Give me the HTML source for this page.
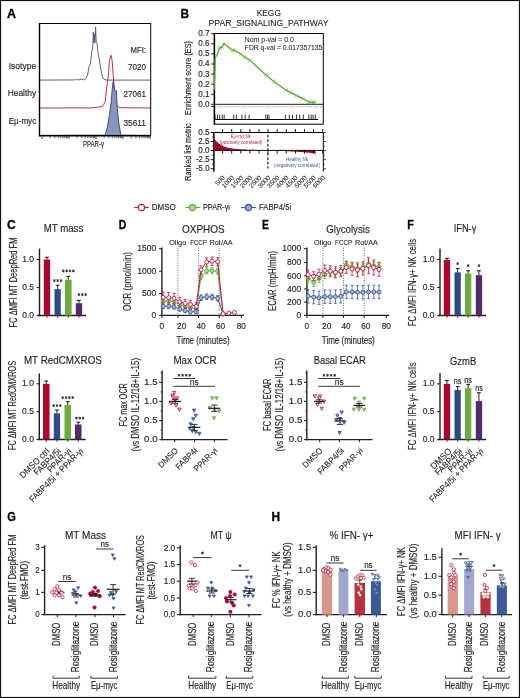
<!DOCTYPE html>
<html><head><meta charset="utf-8"><style>
html,body{margin:0;padding:0;background:#fff;width:520px;height:698px;overflow:hidden}
svg{display:block;will-change:transform}
text{font-family:"Liberation Sans", sans-serif}
</style></head><body>
<svg width="520" height="698" viewBox="0 0 520 698" font-family='"Liberation Sans", sans-serif'><rect x="0.50" y="0.50" width="519.00" height="697.00" fill="none" stroke="#111" stroke-width="1.2"/>
<text x="6.90" y="17.50" font-size="12.6" text-anchor="start" fill="#000" font-weight="bold" textLength="9.0" lengthAdjust="spacingAndGlyphs" stroke="#000" stroke-width="0.3">A</text>
<text x="180.40" y="17.50" font-size="12.6" text-anchor="start" fill="#000" font-weight="bold" textLength="8.6" lengthAdjust="spacingAndGlyphs" stroke="#000" stroke-width="0.3">B</text>
<text x="7.00" y="228.90" font-size="12.6" text-anchor="start" fill="#000" font-weight="bold" textLength="8.8" lengthAdjust="spacingAndGlyphs" stroke="#000" stroke-width="0.3">C</text>
<text x="118.80" y="228.90" font-size="12.6" text-anchor="start" fill="#000" font-weight="bold" textLength="7.6" lengthAdjust="spacingAndGlyphs" stroke="#000" stroke-width="0.3">D</text>
<text x="261.90" y="228.90" font-size="12.6" text-anchor="start" fill="#000" font-weight="bold" textLength="6.9" lengthAdjust="spacingAndGlyphs" stroke="#000" stroke-width="0.3">E</text>
<text x="407.30" y="228.90" font-size="12.6" text-anchor="start" fill="#000" font-weight="bold" textLength="6.7" lengthAdjust="spacingAndGlyphs" stroke="#000" stroke-width="0.3">F</text>
<text x="7.30" y="520.80" font-size="12.6" text-anchor="start" fill="#000" font-weight="bold" textLength="8.6" lengthAdjust="spacingAndGlyphs" stroke="#000" stroke-width="0.3">G</text>
<text x="271.40" y="520.80" font-size="12.6" text-anchor="start" fill="#000" font-weight="bold" textLength="8.6" lengthAdjust="spacingAndGlyphs" stroke="#000" stroke-width="0.3">H</text>
<polyline points="40.00,80.10 75.40,79.90 76.50,79.20 78.30,80.00 81.20,79.20 83.50,79.90 85.80,78.40 87.50,75.20 89.20,66.20 90.40,64.40 91.80,51.20 92.70,48.80 93.30,32.10 93.80,42.50 94.40,33.80 94.80,43.10 95.60,26.90 96.20,41.90 97.10,43.10 98.20,54.60 99.40,59.20 100.80,69.60 102.50,76.50 104.20,79.40 106.50,80.10 151.00,80.10" fill="none" stroke="#4a5468" stroke-width="0.9" stroke-linejoin="round"/>
<polyline points="40.00,108.00 60.00,108.00 75.00,107.80 90.00,108.00 102.20,106.70 103.50,104.80 105.20,101.50 106.10,92.50 107.40,82.20 108.70,73.20 109.30,61.60 110.40,57.70 110.90,55.20 111.60,57.10 112.20,61.60 113.20,74.50 114.50,91.20 115.80,101.50 117.10,106.10 119.60,107.70 151.00,108.00" fill="none" stroke="#c1284a" stroke-width="1.0" stroke-linejoin="round"/>
<polygon points="40.00,135.40 105.20,135.20 107.40,127.30 109.30,115.70 111.30,101.50 112.20,88.70 113.20,81.60 114.20,88.70 115.10,91.20 116.40,90.60 117.10,105.40 118.60,122.20 120.90,135.20 151.00,135.40" fill="#8a95bd" stroke="#2a3f7e" stroke-width="0.9" stroke-linejoin="round"/>
<rect x="39.50" y="23.50" width="111.20" height="112.00" fill="none" stroke="#000" stroke-width="1"/>
<line x1="39.50" y1="23.00" x2="39.50" y2="136.20" stroke="#000" stroke-width="1.4"/>
<line x1="39.00" y1="135.70" x2="151.00" y2="135.70" stroke="#000" stroke-width="1.4"/>
<line x1="42.00" y1="136.20" x2="42.00" y2="139.00" stroke="#222" stroke-width="0.8"/>
<line x1="50.13" y1="136.20" x2="50.13" y2="138.20" stroke="#222" stroke-width="0.8"/>
<line x1="54.88" y1="136.20" x2="54.88" y2="138.20" stroke="#222" stroke-width="0.8"/>
<line x1="58.26" y1="136.20" x2="58.26" y2="138.20" stroke="#222" stroke-width="0.8"/>
<line x1="60.87" y1="136.20" x2="60.87" y2="138.20" stroke="#222" stroke-width="0.8"/>
<line x1="63.01" y1="136.20" x2="63.01" y2="138.20" stroke="#222" stroke-width="0.8"/>
<line x1="64.82" y1="136.20" x2="64.82" y2="138.20" stroke="#222" stroke-width="0.8"/>
<line x1="66.38" y1="136.20" x2="66.38" y2="138.20" stroke="#222" stroke-width="0.8"/>
<line x1="67.76" y1="136.20" x2="67.76" y2="138.20" stroke="#222" stroke-width="0.8"/>
<line x1="69.00" y1="136.20" x2="69.00" y2="139.00" stroke="#222" stroke-width="0.8"/>
<line x1="77.13" y1="136.20" x2="77.13" y2="138.20" stroke="#222" stroke-width="0.8"/>
<line x1="81.88" y1="136.20" x2="81.88" y2="138.20" stroke="#222" stroke-width="0.8"/>
<line x1="85.26" y1="136.20" x2="85.26" y2="138.20" stroke="#222" stroke-width="0.8"/>
<line x1="87.87" y1="136.20" x2="87.87" y2="138.20" stroke="#222" stroke-width="0.8"/>
<line x1="90.01" y1="136.20" x2="90.01" y2="138.20" stroke="#222" stroke-width="0.8"/>
<line x1="91.82" y1="136.20" x2="91.82" y2="138.20" stroke="#222" stroke-width="0.8"/>
<line x1="93.38" y1="136.20" x2="93.38" y2="138.20" stroke="#222" stroke-width="0.8"/>
<line x1="94.76" y1="136.20" x2="94.76" y2="138.20" stroke="#222" stroke-width="0.8"/>
<line x1="96.00" y1="136.20" x2="96.00" y2="139.00" stroke="#222" stroke-width="0.8"/>
<line x1="104.13" y1="136.20" x2="104.13" y2="138.20" stroke="#222" stroke-width="0.8"/>
<line x1="108.88" y1="136.20" x2="108.88" y2="138.20" stroke="#222" stroke-width="0.8"/>
<line x1="112.26" y1="136.20" x2="112.26" y2="138.20" stroke="#222" stroke-width="0.8"/>
<line x1="114.87" y1="136.20" x2="114.87" y2="138.20" stroke="#222" stroke-width="0.8"/>
<line x1="117.01" y1="136.20" x2="117.01" y2="138.20" stroke="#222" stroke-width="0.8"/>
<line x1="118.82" y1="136.20" x2="118.82" y2="138.20" stroke="#222" stroke-width="0.8"/>
<line x1="120.38" y1="136.20" x2="120.38" y2="138.20" stroke="#222" stroke-width="0.8"/>
<line x1="121.76" y1="136.20" x2="121.76" y2="138.20" stroke="#222" stroke-width="0.8"/>
<line x1="123.00" y1="136.20" x2="123.00" y2="139.00" stroke="#222" stroke-width="0.8"/>
<line x1="131.13" y1="136.20" x2="131.13" y2="138.20" stroke="#222" stroke-width="0.8"/>
<line x1="135.88" y1="136.20" x2="135.88" y2="138.20" stroke="#222" stroke-width="0.8"/>
<line x1="139.26" y1="136.20" x2="139.26" y2="138.20" stroke="#222" stroke-width="0.8"/>
<line x1="141.87" y1="136.20" x2="141.87" y2="138.20" stroke="#222" stroke-width="0.8"/>
<line x1="144.01" y1="136.20" x2="144.01" y2="138.20" stroke="#222" stroke-width="0.8"/>
<line x1="145.82" y1="136.20" x2="145.82" y2="138.20" stroke="#222" stroke-width="0.8"/>
<line x1="147.38" y1="136.20" x2="147.38" y2="138.20" stroke="#222" stroke-width="0.8"/>
<line x1="148.76" y1="136.20" x2="148.76" y2="138.20" stroke="#222" stroke-width="0.8"/>
<line x1="150.00" y1="136.20" x2="150.00" y2="139.00" stroke="#222" stroke-width="0.8"/>
<text x="93.50" y="146.60" font-size="9.12" text-anchor="middle" fill="#231f20" font-weight="normal" textLength="21" lengthAdjust="spacingAndGlyphs" stroke="#231f20" stroke-width="0.16">PPAR-γ</text>
<text x="36.20" y="69.20" font-size="9.839999999999998" text-anchor="end" fill="#231f20" font-weight="normal" textLength="27.5" lengthAdjust="spacingAndGlyphs" stroke="#231f20" stroke-width="0.16">Isotype</text>
<text x="36.20" y="96.00" font-size="9.839999999999998" text-anchor="end" fill="#231f20" font-weight="normal" textLength="28.5" lengthAdjust="spacingAndGlyphs" stroke="#231f20" stroke-width="0.16">Healthy</text>
<text x="36.20" y="123.80" font-size="9.839999999999998" text-anchor="end" fill="#231f20" font-weight="normal" textLength="27.5" lengthAdjust="spacingAndGlyphs" stroke="#231f20" stroke-width="0.16">Eμ-myc</text>
<text x="146.00" y="52.60" font-size="9.839999999999998" text-anchor="end" fill="#231f20" font-weight="normal" textLength="15.5" lengthAdjust="spacingAndGlyphs" stroke="#231f20" stroke-width="0.16">MFI:</text>
<text x="146.00" y="69.80" font-size="9.839999999999998" text-anchor="end" fill="#231f20" font-weight="normal" textLength="18" lengthAdjust="spacingAndGlyphs" stroke="#231f20" stroke-width="0.16">7020</text>
<text x="146.00" y="96.80" font-size="9.839999999999998" text-anchor="end" fill="#231f20" font-weight="normal" textLength="22.5" lengthAdjust="spacingAndGlyphs" stroke="#231f20" stroke-width="0.16">27061</text>
<text x="146.00" y="125.60" font-size="9.839999999999998" text-anchor="end" fill="#231f20" font-weight="normal" textLength="22.5" lengthAdjust="spacingAndGlyphs" stroke="#231f20" stroke-width="0.16">35611</text>
<text x="268.80" y="15.60" font-size="9.0" text-anchor="middle" fill="#231f20" font-weight="normal" textLength="24.3" lengthAdjust="spacingAndGlyphs" stroke="#231f20" stroke-width="0.12">KEGG</text>
<text x="268.50" y="26.10" font-size="9.0" text-anchor="middle" fill="#231f20" font-weight="normal" textLength="120" lengthAdjust="spacingAndGlyphs" stroke="#231f20" stroke-width="0.12">PPAR_SIGNALING_PATHWAY</text>
<rect x="214.40" y="33.50" width="108.90" height="90.70" fill="none" stroke="#000" stroke-width="1"/>
<line x1="214.40" y1="33.00" x2="214.40" y2="124.50" stroke="#000" stroke-width="1.5"/>
<line x1="214.40" y1="104.30" x2="323.30" y2="104.30" stroke="#000" stroke-width="0.9"/>
<line x1="214.40" y1="106.80" x2="323.30" y2="106.80" stroke="#666" stroke-width="0.6" stroke-dasharray="1.4,1"/>
<line x1="214.40" y1="119.50" x2="318.00" y2="119.50" stroke="#000" stroke-width="1.0"/>
<line x1="215.00" y1="114.60" x2="215.00" y2="119.50" stroke="#000" stroke-width="0.8"/>
<line x1="217.40" y1="114.60" x2="217.40" y2="119.50" stroke="#000" stroke-width="0.8"/>
<line x1="219.70" y1="114.60" x2="219.70" y2="119.50" stroke="#000" stroke-width="0.8"/>
<line x1="222.30" y1="114.60" x2="222.30" y2="119.50" stroke="#000" stroke-width="0.8"/>
<line x1="224.20" y1="114.60" x2="224.20" y2="119.50" stroke="#000" stroke-width="0.8"/>
<line x1="233.70" y1="114.60" x2="233.70" y2="119.50" stroke="#000" stroke-width="0.8"/>
<line x1="236.30" y1="114.60" x2="236.30" y2="119.50" stroke="#000" stroke-width="0.8"/>
<line x1="241.90" y1="114.60" x2="241.90" y2="119.50" stroke="#000" stroke-width="0.8"/>
<line x1="245.20" y1="114.60" x2="245.20" y2="119.50" stroke="#000" stroke-width="0.8"/>
<line x1="249.10" y1="114.60" x2="249.10" y2="119.50" stroke="#000" stroke-width="0.8"/>
<line x1="265.80" y1="114.60" x2="265.80" y2="119.50" stroke="#000" stroke-width="0.8"/>
<line x1="267.40" y1="114.60" x2="267.40" y2="119.50" stroke="#000" stroke-width="0.8"/>
<line x1="269.00" y1="114.60" x2="269.00" y2="119.50" stroke="#000" stroke-width="0.8"/>
<line x1="285.40" y1="114.60" x2="285.40" y2="119.50" stroke="#000" stroke-width="0.8"/>
<line x1="289.30" y1="114.60" x2="289.30" y2="119.50" stroke="#000" stroke-width="0.8"/>
<line x1="292.50" y1="114.60" x2="292.50" y2="119.50" stroke="#000" stroke-width="0.8"/>
<line x1="296.50" y1="114.60" x2="296.50" y2="119.50" stroke="#000" stroke-width="0.8"/>
<line x1="299.70" y1="114.60" x2="299.70" y2="119.50" stroke="#000" stroke-width="0.8"/>
<line x1="303.30" y1="114.60" x2="303.30" y2="119.50" stroke="#000" stroke-width="0.8"/>
<line x1="308.90" y1="114.60" x2="308.90" y2="119.50" stroke="#000" stroke-width="0.8"/>
<line x1="311.20" y1="114.60" x2="311.20" y2="119.50" stroke="#000" stroke-width="0.8"/>
<line x1="313.10" y1="114.60" x2="313.10" y2="119.50" stroke="#000" stroke-width="0.8"/>
<line x1="315.40" y1="114.60" x2="315.40" y2="119.50" stroke="#000" stroke-width="0.8"/>
<line x1="211.20" y1="33.70" x2="214.40" y2="33.70" stroke="#000" stroke-width="0.9"/>
<text x="209.50" y="36.20" font-size="8.64" text-anchor="end" fill="#231f20" font-weight="normal" textLength="11.2" lengthAdjust="spacingAndGlyphs" stroke="#231f20" stroke-width="0.16">0.7</text>
<line x1="211.20" y1="43.79" x2="214.40" y2="43.79" stroke="#000" stroke-width="0.9"/>
<text x="209.50" y="46.29" font-size="8.64" text-anchor="end" fill="#231f20" font-weight="normal" textLength="11.2" lengthAdjust="spacingAndGlyphs" stroke="#231f20" stroke-width="0.16">0.6</text>
<line x1="211.20" y1="53.88" x2="214.40" y2="53.88" stroke="#000" stroke-width="0.9"/>
<text x="209.50" y="56.38" font-size="8.64" text-anchor="end" fill="#231f20" font-weight="normal" textLength="11.2" lengthAdjust="spacingAndGlyphs" stroke="#231f20" stroke-width="0.16">0.5</text>
<line x1="211.20" y1="63.97" x2="214.40" y2="63.97" stroke="#000" stroke-width="0.9"/>
<text x="209.50" y="66.47" font-size="8.64" text-anchor="end" fill="#231f20" font-weight="normal" textLength="11.2" lengthAdjust="spacingAndGlyphs" stroke="#231f20" stroke-width="0.16">0.4</text>
<line x1="211.20" y1="74.06" x2="214.40" y2="74.06" stroke="#000" stroke-width="0.9"/>
<text x="209.50" y="76.56" font-size="8.64" text-anchor="end" fill="#231f20" font-weight="normal" textLength="11.2" lengthAdjust="spacingAndGlyphs" stroke="#231f20" stroke-width="0.16">0.3</text>
<line x1="211.20" y1="84.15" x2="214.40" y2="84.15" stroke="#000" stroke-width="0.9"/>
<text x="209.50" y="86.65" font-size="8.64" text-anchor="end" fill="#231f20" font-weight="normal" textLength="11.2" lengthAdjust="spacingAndGlyphs" stroke="#231f20" stroke-width="0.16">0.2</text>
<line x1="211.20" y1="94.24" x2="214.40" y2="94.24" stroke="#000" stroke-width="0.9"/>
<text x="209.50" y="96.74" font-size="8.64" text-anchor="end" fill="#231f20" font-weight="normal" textLength="11.2" lengthAdjust="spacingAndGlyphs" stroke="#231f20" stroke-width="0.16">0.1</text>
<line x1="211.20" y1="104.33" x2="214.40" y2="104.33" stroke="#000" stroke-width="0.9"/>
<text x="209.50" y="106.83" font-size="8.64" text-anchor="end" fill="#231f20" font-weight="normal" textLength="11.2" lengthAdjust="spacingAndGlyphs" stroke="#231f20" stroke-width="0.16">0.0</text>
<line x1="211.20" y1="106.40" x2="214.40" y2="106.40" stroke="#000" stroke-width="0.9"/>
<text x="190.50" y="78.00" font-size="9.36" text-anchor="middle" fill="#231f20" font-weight="normal" textLength="74" lengthAdjust="spacingAndGlyphs" transform="rotate(-90 190.50 78.00)" stroke="#231f20" stroke-width="0.16">Enrichment score (ES)</text>
<polyline points="214.40,89.40 215.20,57.70 216.00,56.50 217.50,54.20 219.50,47.90 221.00,47.30 222.10,47.30 223.80,43.30 225.00,44.40 232.50,50.20 234.80,50.50 241.20,54.20 244.60,57.10 249.80,60.20 266.90,75.80 273.70,81.50 286.20,90.20 291.00,92.70 296.70,95.60 303.50,98.80 309.20,102.30 315.00,102.30" fill="none" stroke="#55a52e" stroke-width="1.3" stroke-linejoin="round"/>
<line x1="217.60" y1="46.00" x2="221.40" y2="49.80" stroke="#6cbb4a" stroke-width="0.8"/>
<line x1="217.60" y1="49.80" x2="221.40" y2="46.00" stroke="#6cbb4a" stroke-width="0.8"/>
<line x1="220.20" y1="45.40" x2="224.00" y2="49.20" stroke="#6cbb4a" stroke-width="0.8"/>
<line x1="220.20" y1="49.20" x2="224.00" y2="45.40" stroke="#6cbb4a" stroke-width="0.8"/>
<line x1="230.60" y1="48.30" x2="234.40" y2="52.10" stroke="#6cbb4a" stroke-width="0.8"/>
<line x1="230.60" y1="52.10" x2="234.40" y2="48.30" stroke="#6cbb4a" stroke-width="0.8"/>
<line x1="232.90" y1="48.60" x2="236.70" y2="52.40" stroke="#6cbb4a" stroke-width="0.8"/>
<line x1="232.90" y1="52.40" x2="236.70" y2="48.60" stroke="#6cbb4a" stroke-width="0.8"/>
<line x1="239.30" y1="52.30" x2="243.10" y2="56.10" stroke="#6cbb4a" stroke-width="0.8"/>
<line x1="239.30" y1="56.10" x2="243.10" y2="52.30" stroke="#6cbb4a" stroke-width="0.8"/>
<line x1="242.70" y1="55.20" x2="246.50" y2="59.00" stroke="#6cbb4a" stroke-width="0.8"/>
<line x1="242.70" y1="59.00" x2="246.50" y2="55.20" stroke="#6cbb4a" stroke-width="0.8"/>
<line x1="247.90" y1="58.30" x2="251.70" y2="62.10" stroke="#6cbb4a" stroke-width="0.8"/>
<line x1="247.90" y1="62.10" x2="251.70" y2="58.30" stroke="#6cbb4a" stroke-width="0.8"/>
<line x1="263.50" y1="72.53" x2="267.30" y2="76.33" stroke="#6cbb4a" stroke-width="0.8"/>
<line x1="263.50" y1="76.33" x2="267.30" y2="72.53" stroke="#6cbb4a" stroke-width="0.8"/>
<line x1="265.00" y1="73.90" x2="268.80" y2="77.70" stroke="#6cbb4a" stroke-width="0.8"/>
<line x1="265.00" y1="77.70" x2="268.80" y2="73.90" stroke="#6cbb4a" stroke-width="0.8"/>
<line x1="271.80" y1="79.60" x2="275.60" y2="83.40" stroke="#6cbb4a" stroke-width="0.8"/>
<line x1="271.80" y1="83.40" x2="275.60" y2="79.60" stroke="#6cbb4a" stroke-width="0.8"/>
<line x1="284.30" y1="88.30" x2="288.10" y2="92.10" stroke="#6cbb4a" stroke-width="0.8"/>
<line x1="284.30" y1="92.10" x2="288.10" y2="88.30" stroke="#6cbb4a" stroke-width="0.8"/>
<line x1="289.10" y1="90.80" x2="292.90" y2="94.60" stroke="#6cbb4a" stroke-width="0.8"/>
<line x1="289.10" y1="94.60" x2="292.90" y2="90.80" stroke="#6cbb4a" stroke-width="0.8"/>
<line x1="294.80" y1="93.70" x2="298.60" y2="97.50" stroke="#6cbb4a" stroke-width="0.8"/>
<line x1="294.80" y1="97.50" x2="298.60" y2="93.70" stroke="#6cbb4a" stroke-width="0.8"/>
<line x1="301.60" y1="96.90" x2="305.40" y2="100.70" stroke="#6cbb4a" stroke-width="0.8"/>
<line x1="301.60" y1="100.70" x2="305.40" y2="96.90" stroke="#6cbb4a" stroke-width="0.8"/>
<line x1="307.30" y1="100.40" x2="311.10" y2="104.20" stroke="#6cbb4a" stroke-width="0.8"/>
<line x1="307.30" y1="104.20" x2="311.10" y2="100.40" stroke="#6cbb4a" stroke-width="0.8"/>
<line x1="309.60" y1="100.40" x2="313.40" y2="104.20" stroke="#6cbb4a" stroke-width="0.8"/>
<line x1="309.60" y1="104.20" x2="313.40" y2="100.40" stroke="#6cbb4a" stroke-width="0.8"/>
<line x1="311.60" y1="100.40" x2="315.40" y2="104.20" stroke="#6cbb4a" stroke-width="0.8"/>
<line x1="311.60" y1="104.20" x2="315.40" y2="100.40" stroke="#6cbb4a" stroke-width="0.8"/>
<line x1="313.10" y1="100.40" x2="316.90" y2="104.20" stroke="#6cbb4a" stroke-width="0.8"/>
<line x1="313.10" y1="104.20" x2="316.90" y2="100.40" stroke="#6cbb4a" stroke-width="0.8"/>
<text x="244.80" y="41.60" font-size="7.2" text-anchor="start" fill="#231f20" font-weight="normal" textLength="49" lengthAdjust="spacingAndGlyphs" stroke="#231f20" stroke-width="0.08">Nom p-val = 0.0</text>
<text x="244.80" y="49.70" font-size="7.2" text-anchor="start" fill="#231f20" font-weight="normal" textLength="77.5" lengthAdjust="spacingAndGlyphs" stroke="#231f20" stroke-width="0.08">FDR q-val = 0.017357135</text>
<line x1="214.40" y1="132.50" x2="323.30" y2="132.50" stroke="#000" stroke-width="1"/>
<line x1="323.30" y1="132.50" x2="323.30" y2="171.50" stroke="#000" stroke-width="1"/>
<line x1="213.90" y1="132.00" x2="213.90" y2="171.80" stroke="#000" stroke-width="1.5"/>
<polygon points="214.40,150.40 214.40,139.80 215.30,140.07 216.20,141.11 217.10,142.04 218.00,142.85 218.90,143.58 219.80,144.22 220.70,144.80 221.60,145.31 222.50,145.76 223.40,146.17 224.30,146.53 225.20,146.85 226.10,147.14 227.00,147.40 227.90,147.63 228.80,147.84 229.70,148.03 230.60,148.20 231.50,148.36 232.40,148.50 233.30,148.62 234.20,148.74 235.10,148.84 236.00,148.94 236.90,149.02 237.80,149.10 238.70,149.17 239.60,149.24 240.50,149.30 241.40,149.36 242.30,149.41 243.20,149.46 244.10,149.51 245.00,149.55 245.90,149.59 246.80,149.63 247.70,149.66 248.60,149.70 249.50,149.73 250.40,149.76 251.30,149.78 252.20,149.81 253.10,149.83 254.00,149.86 254.90,149.88 255.80,149.90 256.70,149.92 257.60,149.94 258.50,149.96 259.40,149.97 260.30,149.99 261.20,150.00 262.10,150.02 263.00,150.03 263.90,150.05 264.80,150.06 265.70,150.07 266.60,150.08 267.50,150.10 268.00,150.40" fill="#a8001e" stroke="none" stroke-width="0" stroke-linejoin="round"/>
<polygon points="266.00,150.40 266.00,150.80 267.00,150.80 268.00,150.80 269.00,150.81 270.00,150.81 271.00,150.82 272.00,150.83 273.00,150.84 274.00,150.85 275.00,150.86 276.00,150.88 277.00,150.90 278.00,150.92 279.00,150.94 280.00,150.97 281.00,150.99 282.00,151.02 283.00,151.05 284.00,151.09 285.00,151.12 286.00,151.16 287.00,151.20 288.00,151.25 289.00,151.29 290.00,151.34 291.00,151.39 292.00,151.44 293.00,151.50 294.00,151.56 295.00,151.62 296.00,151.68 297.00,151.75 298.00,151.82 299.00,151.89 300.00,151.96 301.00,152.04 302.00,152.12 303.00,152.20 304.00,152.29 305.00,152.37 306.00,152.46 307.00,152.56 308.00,152.65 309.00,152.75 310.00,152.85 311.00,152.96 312.00,153.06 313.00,153.17 314.00,153.28 315.00,153.40 315.50,155.80 315.50,150.40" fill="#a8001e" stroke="none" stroke-width="0" stroke-linejoin="round"/>
<line x1="214.40" y1="150.40" x2="323.30" y2="150.40" stroke="#000" stroke-width="0.9"/>
<line x1="267.90" y1="134.80" x2="267.90" y2="168.50" stroke="#111" stroke-width="1.1" stroke-dasharray="2.6,1.9"/>
<line x1="210.60" y1="132.50" x2="213.90" y2="132.50" stroke="#000" stroke-width="0.9"/>
<text x="209.50" y="135.00" font-size="8.64" text-anchor="end" fill="#231f20" font-weight="normal" textLength="11.2" lengthAdjust="spacingAndGlyphs" stroke="#231f20" stroke-width="0.16">0.5</text>
<line x1="212.00" y1="137.00" x2="213.90" y2="137.00" stroke="#000" stroke-width="0.6"/>
<line x1="323.30" y1="132.50" x2="326.00" y2="132.50" stroke="#000" stroke-width="0.7"/>
<line x1="323.30" y1="137.00" x2="325.00" y2="137.00" stroke="#000" stroke-width="0.5"/>
<line x1="210.60" y1="141.55" x2="213.90" y2="141.55" stroke="#000" stroke-width="0.9"/>
<text x="209.50" y="144.05" font-size="8.64" text-anchor="end" fill="#231f20" font-weight="normal" textLength="11.2" lengthAdjust="spacingAndGlyphs" stroke="#231f20" stroke-width="0.16">2.5</text>
<line x1="212.00" y1="146.05" x2="213.90" y2="146.05" stroke="#000" stroke-width="0.6"/>
<line x1="323.30" y1="141.55" x2="326.00" y2="141.55" stroke="#000" stroke-width="0.7"/>
<line x1="323.30" y1="146.05" x2="325.00" y2="146.05" stroke="#000" stroke-width="0.5"/>
<line x1="210.60" y1="150.60" x2="213.90" y2="150.60" stroke="#000" stroke-width="0.9"/>
<text x="209.50" y="153.10" font-size="8.64" text-anchor="end" fill="#231f20" font-weight="normal" textLength="11.2" lengthAdjust="spacingAndGlyphs" stroke="#231f20" stroke-width="0.16">0.0</text>
<line x1="212.00" y1="155.10" x2="213.90" y2="155.10" stroke="#000" stroke-width="0.6"/>
<line x1="323.30" y1="150.60" x2="326.00" y2="150.60" stroke="#000" stroke-width="0.7"/>
<line x1="323.30" y1="155.10" x2="325.00" y2="155.10" stroke="#000" stroke-width="0.5"/>
<line x1="210.60" y1="159.65" x2="213.90" y2="159.65" stroke="#000" stroke-width="0.9"/>
<text x="209.50" y="162.15" font-size="8.64" text-anchor="end" fill="#231f20" font-weight="normal" textLength="13.5" lengthAdjust="spacingAndGlyphs" stroke="#231f20" stroke-width="0.16">-2.5</text>
<line x1="212.00" y1="164.15" x2="213.90" y2="164.15" stroke="#000" stroke-width="0.6"/>
<line x1="323.30" y1="159.65" x2="326.00" y2="159.65" stroke="#000" stroke-width="0.7"/>
<line x1="323.30" y1="164.15" x2="325.00" y2="164.15" stroke="#000" stroke-width="0.5"/>
<line x1="210.60" y1="168.70" x2="213.90" y2="168.70" stroke="#000" stroke-width="0.9"/>
<text x="209.50" y="171.20" font-size="8.64" text-anchor="end" fill="#231f20" font-weight="normal" textLength="13.5" lengthAdjust="spacingAndGlyphs" stroke="#231f20" stroke-width="0.16">-5.0</text>
<line x1="323.30" y1="168.70" x2="326.00" y2="168.70" stroke="#000" stroke-width="0.7"/>
<line x1="222.60" y1="129.00" x2="222.60" y2="132.50" stroke="#000" stroke-width="0.9"/>
<line x1="222.60" y1="150.40" x2="222.60" y2="153.60" stroke="#000" stroke-width="0.9"/>
<text x="225.40" y="178.20" font-size="6.5" text-anchor="end" fill="#231f20" font-weight="normal" transform="rotate(-45 225.40 178.20)" stroke="#231f20" stroke-width="0.08">500</text>
<line x1="231.70" y1="129.00" x2="231.70" y2="132.50" stroke="#000" stroke-width="0.9"/>
<line x1="231.70" y1="150.40" x2="231.70" y2="153.60" stroke="#000" stroke-width="0.9"/>
<text x="234.50" y="178.20" font-size="6.5" text-anchor="end" fill="#231f20" font-weight="normal" transform="rotate(-45 234.50 178.20)" stroke="#231f20" stroke-width="0.08">1000</text>
<line x1="240.80" y1="129.00" x2="240.80" y2="132.50" stroke="#000" stroke-width="0.9"/>
<line x1="240.80" y1="150.40" x2="240.80" y2="153.60" stroke="#000" stroke-width="0.9"/>
<text x="243.60" y="178.20" font-size="6.5" text-anchor="end" fill="#231f20" font-weight="normal" transform="rotate(-45 243.60 178.20)" stroke="#231f20" stroke-width="0.08">1500</text>
<line x1="249.90" y1="129.00" x2="249.90" y2="132.50" stroke="#000" stroke-width="0.9"/>
<line x1="249.90" y1="150.40" x2="249.90" y2="153.60" stroke="#000" stroke-width="0.9"/>
<text x="252.70" y="178.20" font-size="6.5" text-anchor="end" fill="#231f20" font-weight="normal" transform="rotate(-45 252.70 178.20)" stroke="#231f20" stroke-width="0.08">2000</text>
<line x1="259.00" y1="129.00" x2="259.00" y2="132.50" stroke="#000" stroke-width="0.9"/>
<line x1="259.00" y1="150.40" x2="259.00" y2="153.60" stroke="#000" stroke-width="0.9"/>
<text x="261.80" y="178.20" font-size="6.5" text-anchor="end" fill="#231f20" font-weight="normal" transform="rotate(-45 261.80 178.20)" stroke="#231f20" stroke-width="0.08">2500</text>
<line x1="268.10" y1="129.00" x2="268.10" y2="132.50" stroke="#000" stroke-width="0.9"/>
<line x1="268.10" y1="150.40" x2="268.10" y2="153.60" stroke="#000" stroke-width="0.9"/>
<text x="270.90" y="178.20" font-size="6.5" text-anchor="end" fill="#231f20" font-weight="normal" transform="rotate(-45 270.90 178.20)" stroke="#231f20" stroke-width="0.08">3000</text>
<line x1="277.20" y1="129.00" x2="277.20" y2="132.50" stroke="#000" stroke-width="0.9"/>
<line x1="277.20" y1="150.40" x2="277.20" y2="153.60" stroke="#000" stroke-width="0.9"/>
<text x="280.00" y="178.20" font-size="6.5" text-anchor="end" fill="#231f20" font-weight="normal" transform="rotate(-45 280.00 178.20)" stroke="#231f20" stroke-width="0.08">3500</text>
<line x1="286.30" y1="129.00" x2="286.30" y2="132.50" stroke="#000" stroke-width="0.9"/>
<line x1="286.30" y1="150.40" x2="286.30" y2="153.60" stroke="#000" stroke-width="0.9"/>
<text x="289.10" y="178.20" font-size="6.5" text-anchor="end" fill="#231f20" font-weight="normal" transform="rotate(-45 289.10 178.20)" stroke="#231f20" stroke-width="0.08">4000</text>
<line x1="295.40" y1="129.00" x2="295.40" y2="132.50" stroke="#000" stroke-width="0.9"/>
<line x1="295.40" y1="150.40" x2="295.40" y2="153.60" stroke="#000" stroke-width="0.9"/>
<text x="298.20" y="178.20" font-size="6.5" text-anchor="end" fill="#231f20" font-weight="normal" transform="rotate(-45 298.20 178.20)" stroke="#231f20" stroke-width="0.08">4500</text>
<line x1="304.50" y1="129.00" x2="304.50" y2="132.50" stroke="#000" stroke-width="0.9"/>
<line x1="304.50" y1="150.40" x2="304.50" y2="153.60" stroke="#000" stroke-width="0.9"/>
<text x="307.30" y="178.20" font-size="6.5" text-anchor="end" fill="#231f20" font-weight="normal" transform="rotate(-45 307.30 178.20)" stroke="#231f20" stroke-width="0.08">5000</text>
<line x1="313.60" y1="129.00" x2="313.60" y2="132.50" stroke="#000" stroke-width="0.9"/>
<line x1="313.60" y1="150.40" x2="313.60" y2="153.60" stroke="#000" stroke-width="0.9"/>
<text x="316.40" y="178.20" font-size="6.5" text-anchor="end" fill="#231f20" font-weight="normal" transform="rotate(-45 316.40 178.20)" stroke="#231f20" stroke-width="0.08">5500</text>
<line x1="322.70" y1="129.00" x2="322.70" y2="132.50" stroke="#000" stroke-width="0.9"/>
<line x1="322.70" y1="150.40" x2="322.70" y2="153.60" stroke="#000" stroke-width="0.9"/>
<text x="325.50" y="178.20" font-size="6.5" text-anchor="end" fill="#231f20" font-weight="normal" transform="rotate(-45 325.50 178.20)" stroke="#231f20" stroke-width="0.08">6000</text>
<text x="190.80" y="152.00" font-size="9.36" text-anchor="middle" fill="#231f20" font-weight="normal" textLength="57.5" lengthAdjust="spacingAndGlyphs" transform="rotate(-90 190.80 152.00)" stroke="#231f20" stroke-width="0.16">Ranked list metric</text>
<text x="240.80" y="138.00" font-size="5.4" text-anchor="middle" fill="#b0243f" font-weight="normal" textLength="20" lengthAdjust="spacingAndGlyphs">Eμ-myc Nk</text>
<text x="241.10" y="143.70" font-size="5.4" text-anchor="middle" fill="#b0243f" font-weight="normal" textLength="42.7" lengthAdjust="spacingAndGlyphs">(positively correlated)</text>
<text x="297.00" y="161.40" font-size="5.4" text-anchor="middle" fill="#3d5a98" font-weight="normal" textLength="22" lengthAdjust="spacingAndGlyphs">Healthy Nk</text>
<text x="297.00" y="167.20" font-size="5.4" text-anchor="middle" fill="#3d5a98" font-weight="normal" textLength="46" lengthAdjust="spacingAndGlyphs">(negatively correlated)</text>
<line x1="134.20" y1="207.50" x2="148.80" y2="207.50" stroke="#c0163d" stroke-width="1.1"/>
<circle cx="141.50" cy="207.50" r="3.1" fill="#fff" stroke="#c0163d" stroke-width="1.1"/>
<text x="151.70" y="210.30" font-size="9.6" text-anchor="start" fill="#231f20" font-weight="normal" textLength="24" lengthAdjust="spacingAndGlyphs" stroke="#231f20" stroke-width="0.16">DMSO</text>
<line x1="185.80" y1="207.50" x2="200.40" y2="207.50" stroke="#62ad3f" stroke-width="1.1"/>
<circle cx="192.50" cy="207.50" r="3.1" fill="#a8d48c" stroke="#62ad3f" stroke-width="1.1"/>
<text x="203.00" y="210.30" font-size="9.6" text-anchor="start" fill="#231f20" font-weight="normal" textLength="27" lengthAdjust="spacingAndGlyphs" stroke="#231f20" stroke-width="0.16">PPAR-γi</text>
<line x1="241.20" y1="207.50" x2="255.80" y2="207.50" stroke="#3a5598" stroke-width="1.1"/>
<circle cx="248.50" cy="207.50" r="3.1" fill="#9aa3c9" stroke="#3a5598" stroke-width="1.1"/>
<text x="259.00" y="210.30" font-size="9.6" text-anchor="start" fill="#231f20" font-weight="normal" textLength="32.2" lengthAdjust="spacingAndGlyphs" stroke="#231f20" stroke-width="0.16">FABP4/5i</text>
<line x1="39.50" y1="248.50" x2="39.50" y2="316.10" stroke="#231f20" stroke-width="1.4"/>
<line x1="37.70" y1="315.50" x2="86.30" y2="315.50" stroke="#231f20" stroke-width="1.4"/>
<line x1="36.70" y1="315.50" x2="39.50" y2="315.50" stroke="#231f20" stroke-width="1.1"/>
<text x="34.10" y="318.10" font-size="9.12" text-anchor="end" fill="#231f20" font-weight="normal" textLength="11.8" lengthAdjust="spacingAndGlyphs" stroke="#231f20" stroke-width="0.16">0.0</text>
<line x1="36.70" y1="287.50" x2="39.50" y2="287.50" stroke="#231f20" stroke-width="1.1"/>
<text x="34.10" y="290.10" font-size="9.12" text-anchor="end" fill="#231f20" font-weight="normal" textLength="11.8" lengthAdjust="spacingAndGlyphs" stroke="#231f20" stroke-width="0.16">0.5</text>
<line x1="36.70" y1="259.50" x2="39.50" y2="259.50" stroke="#231f20" stroke-width="1.1"/>
<text x="34.10" y="262.10" font-size="9.12" text-anchor="end" fill="#231f20" font-weight="normal" textLength="11.8" lengthAdjust="spacingAndGlyphs" stroke="#231f20" stroke-width="0.16">1.0</text>
<rect x="43.80" y="259.50" width="6.30" height="56.00" fill="#b0002e" stroke="none" stroke-width="1"/>
<line x1="46.95" y1="257.26" x2="46.95" y2="259.50" stroke="#231f20" stroke-width="1.0"/>
<line x1="45.05" y1="257.26" x2="48.85" y2="257.26" stroke="#231f20" stroke-width="1.1"/>
<line x1="46.95" y1="315.50" x2="46.95" y2="317.70" stroke="#231f20" stroke-width="0.9"/>
<rect x="54.50" y="289.18" width="6.30" height="26.32" fill="#2b4a87" stroke="none" stroke-width="1"/>
<line x1="57.65" y1="285.26" x2="57.65" y2="289.18" stroke="#231f20" stroke-width="1.0"/>
<line x1="55.75" y1="285.26" x2="59.55" y2="285.26" stroke="#231f20" stroke-width="1.1"/>
<line x1="57.65" y1="315.50" x2="57.65" y2="317.70" stroke="#231f20" stroke-width="0.9"/>
<line x1="54.30" y1="279.20" x2="54.30" y2="282.00" stroke="#231f20" stroke-width="0.85"/>
<line x1="53.09" y1="279.90" x2="55.51" y2="281.30" stroke="#231f20" stroke-width="0.85"/>
<line x1="53.09" y1="281.30" x2="55.51" y2="279.90" stroke="#231f20" stroke-width="0.85"/>
<line x1="57.65" y1="279.20" x2="57.65" y2="282.00" stroke="#231f20" stroke-width="0.85"/>
<line x1="56.44" y1="279.90" x2="58.86" y2="281.30" stroke="#231f20" stroke-width="0.85"/>
<line x1="56.44" y1="281.30" x2="58.86" y2="279.90" stroke="#231f20" stroke-width="0.85"/>
<line x1="61.00" y1="279.20" x2="61.00" y2="282.00" stroke="#231f20" stroke-width="0.85"/>
<line x1="59.79" y1="279.90" x2="62.21" y2="281.30" stroke="#231f20" stroke-width="0.85"/>
<line x1="59.79" y1="281.30" x2="62.21" y2="279.90" stroke="#231f20" stroke-width="0.85"/>
<rect x="65.00" y="279.66" width="6.60" height="35.84" fill="#6aac3d" stroke="none" stroke-width="1"/>
<line x1="68.30" y1="276.30" x2="68.30" y2="279.66" stroke="#231f20" stroke-width="1.0"/>
<line x1="66.40" y1="276.30" x2="70.20" y2="276.30" stroke="#231f20" stroke-width="1.1"/>
<line x1="68.30" y1="315.50" x2="68.30" y2="317.70" stroke="#231f20" stroke-width="0.9"/>
<line x1="63.27" y1="269.50" x2="63.27" y2="272.30" stroke="#231f20" stroke-width="0.85"/>
<line x1="62.06" y1="270.20" x2="64.49" y2="271.60" stroke="#231f20" stroke-width="0.85"/>
<line x1="62.06" y1="271.60" x2="64.49" y2="270.20" stroke="#231f20" stroke-width="0.85"/>
<line x1="66.62" y1="269.50" x2="66.62" y2="272.30" stroke="#231f20" stroke-width="0.85"/>
<line x1="65.41" y1="270.20" x2="67.84" y2="271.60" stroke="#231f20" stroke-width="0.85"/>
<line x1="65.41" y1="271.60" x2="67.84" y2="270.20" stroke="#231f20" stroke-width="0.85"/>
<line x1="69.97" y1="269.50" x2="69.97" y2="272.30" stroke="#231f20" stroke-width="0.85"/>
<line x1="68.76" y1="270.20" x2="71.19" y2="271.60" stroke="#231f20" stroke-width="0.85"/>
<line x1="68.76" y1="271.60" x2="71.19" y2="270.20" stroke="#231f20" stroke-width="0.85"/>
<line x1="73.33" y1="269.50" x2="73.33" y2="272.30" stroke="#231f20" stroke-width="0.85"/>
<line x1="72.11" y1="270.20" x2="74.54" y2="271.60" stroke="#231f20" stroke-width="0.85"/>
<line x1="72.11" y1="271.60" x2="74.54" y2="270.20" stroke="#231f20" stroke-width="0.85"/>
<rect x="75.80" y="303.18" width="6.30" height="12.32" fill="#55286b" stroke="none" stroke-width="1"/>
<line x1="78.95" y1="300.38" x2="78.95" y2="303.18" stroke="#231f20" stroke-width="1.0"/>
<line x1="77.05" y1="300.38" x2="80.85" y2="300.38" stroke="#231f20" stroke-width="1.1"/>
<line x1="78.95" y1="315.50" x2="78.95" y2="317.70" stroke="#231f20" stroke-width="0.9"/>
<line x1="78.90" y1="293.20" x2="78.90" y2="296.00" stroke="#231f20" stroke-width="0.85"/>
<line x1="77.69" y1="293.90" x2="80.11" y2="295.30" stroke="#231f20" stroke-width="0.85"/>
<line x1="77.69" y1="295.30" x2="80.11" y2="293.90" stroke="#231f20" stroke-width="0.85"/>
<line x1="82.25" y1="293.20" x2="82.25" y2="296.00" stroke="#231f20" stroke-width="0.85"/>
<line x1="81.04" y1="293.90" x2="83.46" y2="295.30" stroke="#231f20" stroke-width="0.85"/>
<line x1="81.04" y1="295.30" x2="83.46" y2="293.90" stroke="#231f20" stroke-width="0.85"/>
<line x1="85.60" y1="293.20" x2="85.60" y2="296.00" stroke="#231f20" stroke-width="0.85"/>
<line x1="84.39" y1="293.90" x2="86.81" y2="295.30" stroke="#231f20" stroke-width="0.85"/>
<line x1="84.39" y1="295.30" x2="86.81" y2="293.90" stroke="#231f20" stroke-width="0.85"/>
<text x="63.50" y="232.00" font-size="11.04" text-anchor="middle" fill="#231f20" font-weight="normal" textLength="39.5" lengthAdjust="spacingAndGlyphs" stroke="#231f20" stroke-width="0.16">MT mass</text>
<text x="16.90" y="282.50" font-size="10.44" text-anchor="middle" fill="#231f20" font-weight="normal" textLength="90" lengthAdjust="spacingAndGlyphs" transform="rotate(-90 16.90 282.50)" stroke="#231f20" stroke-width="0.16">FC ΔMFI MT DeepRed FM</text>
<line x1="39.30" y1="373.50" x2="39.30" y2="440.10" stroke="#231f20" stroke-width="1.4"/>
<line x1="37.50" y1="439.50" x2="85.80" y2="439.50" stroke="#231f20" stroke-width="1.4"/>
<line x1="36.50" y1="439.50" x2="39.30" y2="439.50" stroke="#231f20" stroke-width="1.1"/>
<text x="33.90" y="442.10" font-size="9.12" text-anchor="end" fill="#231f20" font-weight="normal" textLength="11.8" lengthAdjust="spacingAndGlyphs" stroke="#231f20" stroke-width="0.16">0.0</text>
<line x1="36.50" y1="411.65" x2="39.30" y2="411.65" stroke="#231f20" stroke-width="1.1"/>
<text x="33.90" y="414.25" font-size="9.12" text-anchor="end" fill="#231f20" font-weight="normal" textLength="11.8" lengthAdjust="spacingAndGlyphs" stroke="#231f20" stroke-width="0.16">0.5</text>
<line x1="36.50" y1="383.80" x2="39.30" y2="383.80" stroke="#231f20" stroke-width="1.1"/>
<text x="33.90" y="386.40" font-size="9.12" text-anchor="end" fill="#231f20" font-weight="normal" textLength="11.8" lengthAdjust="spacingAndGlyphs" stroke="#231f20" stroke-width="0.16">1.0</text>
<rect x="43.00" y="383.80" width="6.50" height="55.70" fill="#b0002e" stroke="none" stroke-width="1"/>
<line x1="46.25" y1="381.01" x2="46.25" y2="383.80" stroke="#231f20" stroke-width="1.0"/>
<line x1="44.35" y1="381.01" x2="48.15" y2="381.01" stroke="#231f20" stroke-width="1.1"/>
<line x1="46.25" y1="439.50" x2="46.25" y2="441.70" stroke="#231f20" stroke-width="0.9"/>
<rect x="53.80" y="413.32" width="6.30" height="26.18" fill="#2b4a87" stroke="none" stroke-width="1"/>
<line x1="56.95" y1="409.98" x2="56.95" y2="413.32" stroke="#231f20" stroke-width="1.0"/>
<line x1="55.05" y1="409.98" x2="58.85" y2="409.98" stroke="#231f20" stroke-width="1.1"/>
<line x1="56.95" y1="439.50" x2="56.95" y2="441.70" stroke="#231f20" stroke-width="0.9"/>
<line x1="53.60" y1="404.20" x2="53.60" y2="407.00" stroke="#231f20" stroke-width="0.85"/>
<line x1="52.39" y1="404.90" x2="54.81" y2="406.30" stroke="#231f20" stroke-width="0.85"/>
<line x1="52.39" y1="406.30" x2="54.81" y2="404.90" stroke="#231f20" stroke-width="0.85"/>
<line x1="56.95" y1="404.20" x2="56.95" y2="407.00" stroke="#231f20" stroke-width="0.85"/>
<line x1="55.74" y1="404.90" x2="58.16" y2="406.30" stroke="#231f20" stroke-width="0.85"/>
<line x1="55.74" y1="406.30" x2="58.16" y2="404.90" stroke="#231f20" stroke-width="0.85"/>
<line x1="60.30" y1="404.20" x2="60.30" y2="407.00" stroke="#231f20" stroke-width="0.85"/>
<line x1="59.09" y1="404.90" x2="61.51" y2="406.30" stroke="#231f20" stroke-width="0.85"/>
<line x1="59.09" y1="406.30" x2="61.51" y2="404.90" stroke="#231f20" stroke-width="0.85"/>
<rect x="64.50" y="404.97" width="6.50" height="34.53" fill="#6aac3d" stroke="none" stroke-width="1"/>
<line x1="67.75" y1="401.62" x2="67.75" y2="404.97" stroke="#231f20" stroke-width="1.0"/>
<line x1="65.85" y1="401.62" x2="69.65" y2="401.62" stroke="#231f20" stroke-width="1.1"/>
<line x1="67.75" y1="439.50" x2="67.75" y2="441.70" stroke="#231f20" stroke-width="0.9"/>
<line x1="62.73" y1="396.20" x2="62.73" y2="399.00" stroke="#231f20" stroke-width="0.85"/>
<line x1="61.51" y1="396.90" x2="63.94" y2="398.30" stroke="#231f20" stroke-width="0.85"/>
<line x1="61.51" y1="398.30" x2="63.94" y2="396.90" stroke="#231f20" stroke-width="0.85"/>
<line x1="66.08" y1="396.20" x2="66.08" y2="399.00" stroke="#231f20" stroke-width="0.85"/>
<line x1="64.86" y1="396.90" x2="67.29" y2="398.30" stroke="#231f20" stroke-width="0.85"/>
<line x1="64.86" y1="398.30" x2="67.29" y2="396.90" stroke="#231f20" stroke-width="0.85"/>
<line x1="69.42" y1="396.20" x2="69.42" y2="399.00" stroke="#231f20" stroke-width="0.85"/>
<line x1="68.21" y1="396.90" x2="70.64" y2="398.30" stroke="#231f20" stroke-width="0.85"/>
<line x1="68.21" y1="398.30" x2="70.64" y2="396.90" stroke="#231f20" stroke-width="0.85"/>
<line x1="72.78" y1="396.20" x2="72.78" y2="399.00" stroke="#231f20" stroke-width="0.85"/>
<line x1="71.56" y1="396.90" x2="73.99" y2="398.30" stroke="#231f20" stroke-width="0.85"/>
<line x1="71.56" y1="398.30" x2="73.99" y2="396.90" stroke="#231f20" stroke-width="0.85"/>
<rect x="75.00" y="424.46" width="6.50" height="15.04" fill="#55286b" stroke="none" stroke-width="1"/>
<line x1="78.25" y1="422.23" x2="78.25" y2="424.46" stroke="#231f20" stroke-width="1.0"/>
<line x1="76.35" y1="422.23" x2="80.15" y2="422.23" stroke="#231f20" stroke-width="1.1"/>
<line x1="78.25" y1="439.50" x2="78.25" y2="441.70" stroke="#231f20" stroke-width="0.9"/>
<line x1="76.40" y1="416.70" x2="76.40" y2="419.50" stroke="#231f20" stroke-width="0.85"/>
<line x1="75.19" y1="417.40" x2="77.61" y2="418.80" stroke="#231f20" stroke-width="0.85"/>
<line x1="75.19" y1="418.80" x2="77.61" y2="417.40" stroke="#231f20" stroke-width="0.85"/>
<line x1="79.75" y1="416.70" x2="79.75" y2="419.50" stroke="#231f20" stroke-width="0.85"/>
<line x1="78.54" y1="417.40" x2="80.96" y2="418.80" stroke="#231f20" stroke-width="0.85"/>
<line x1="78.54" y1="418.80" x2="80.96" y2="417.40" stroke="#231f20" stroke-width="0.85"/>
<line x1="83.10" y1="416.70" x2="83.10" y2="419.50" stroke="#231f20" stroke-width="0.85"/>
<line x1="81.89" y1="417.40" x2="84.31" y2="418.80" stroke="#231f20" stroke-width="0.85"/>
<line x1="81.89" y1="418.80" x2="84.31" y2="417.40" stroke="#231f20" stroke-width="0.85"/>
<text x="62.90" y="363.80" font-size="11.04" text-anchor="middle" fill="#231f20" font-weight="normal" textLength="78" lengthAdjust="spacingAndGlyphs" stroke="#231f20" stroke-width="0.16">MT RedCMXROS</text>
<text x="16.40" y="405.50" font-size="10.44" text-anchor="middle" fill="#231f20" font-weight="normal" textLength="89" lengthAdjust="spacingAndGlyphs" transform="rotate(-90 16.40 405.50)" stroke="#231f20" stroke-width="0.16">FC ΔMFI MT RedCMXROS</text>
<text x="50.10" y="451.80" font-size="9.0" text-anchor="end" fill="#231f20" font-weight="normal" textLength="38" lengthAdjust="spacingAndGlyphs" transform="rotate(-45 50.10 451.80)" stroke="#231f20" stroke-width="0.1">DMSO ctrl</text>
<text x="61.30" y="451.80" font-size="9.0" text-anchor="end" fill="#231f20" font-weight="normal" textLength="34" lengthAdjust="spacingAndGlyphs" transform="rotate(-45 61.30 451.80)" stroke="#231f20" stroke-width="0.1">FABP4/5i</text>
<text x="72.00" y="451.80" font-size="9.0" text-anchor="end" fill="#231f20" font-weight="normal" textLength="30" lengthAdjust="spacingAndGlyphs" transform="rotate(-45 72.00 451.80)" stroke="#231f20" stroke-width="0.1">PPAR-γi</text>
<text x="83.80" y="451.80" font-size="9.0" text-anchor="end" fill="#231f20" font-weight="normal" textLength="72" lengthAdjust="spacingAndGlyphs" transform="rotate(-45 83.80 451.80)" stroke="#231f20" stroke-width="0.1">FABP4/5i + PPAR-γi</text>
<line x1="440.00" y1="248.50" x2="440.00" y2="316.10" stroke="#231f20" stroke-width="1.4"/>
<line x1="438.20" y1="315.50" x2="486.30" y2="315.50" stroke="#231f20" stroke-width="1.4"/>
<line x1="437.20" y1="315.50" x2="440.00" y2="315.50" stroke="#231f20" stroke-width="1.1"/>
<text x="434.60" y="318.10" font-size="9.12" text-anchor="end" fill="#231f20" font-weight="normal" textLength="11.8" lengthAdjust="spacingAndGlyphs" stroke="#231f20" stroke-width="0.16">0.0</text>
<line x1="437.20" y1="287.50" x2="440.00" y2="287.50" stroke="#231f20" stroke-width="1.1"/>
<text x="434.60" y="290.10" font-size="9.12" text-anchor="end" fill="#231f20" font-weight="normal" textLength="11.8" lengthAdjust="spacingAndGlyphs" stroke="#231f20" stroke-width="0.16">0.5</text>
<line x1="437.20" y1="259.50" x2="440.00" y2="259.50" stroke="#231f20" stroke-width="1.1"/>
<text x="434.60" y="262.10" font-size="9.12" text-anchor="end" fill="#231f20" font-weight="normal" textLength="11.8" lengthAdjust="spacingAndGlyphs" stroke="#231f20" stroke-width="0.16">1.0</text>
<rect x="443.80" y="260.06" width="6.30" height="55.44" fill="#b0002e" stroke="none" stroke-width="1"/>
<line x1="446.95" y1="258.38" x2="446.95" y2="260.06" stroke="#231f20" stroke-width="1.0"/>
<line x1="445.05" y1="258.38" x2="448.85" y2="258.38" stroke="#231f20" stroke-width="1.1"/>
<line x1="446.95" y1="315.50" x2="446.95" y2="317.70" stroke="#231f20" stroke-width="0.9"/>
<rect x="454.50" y="272.38" width="6.30" height="43.12" fill="#2b4a87" stroke="none" stroke-width="1"/>
<line x1="457.65" y1="268.46" x2="457.65" y2="272.38" stroke="#231f20" stroke-width="1.0"/>
<line x1="455.75" y1="268.46" x2="459.55" y2="268.46" stroke="#231f20" stroke-width="1.1"/>
<line x1="457.65" y1="315.50" x2="457.65" y2="317.70" stroke="#231f20" stroke-width="0.9"/>
<line x1="457.65" y1="262.20" x2="457.65" y2="265.00" stroke="#231f20" stroke-width="0.85"/>
<line x1="456.44" y1="262.90" x2="458.86" y2="264.30" stroke="#231f20" stroke-width="0.85"/>
<line x1="456.44" y1="264.30" x2="458.86" y2="262.90" stroke="#231f20" stroke-width="0.85"/>
<rect x="465.00" y="273.50" width="6.30" height="42.00" fill="#6aac3d" stroke="none" stroke-width="1"/>
<line x1="468.15" y1="270.70" x2="468.15" y2="273.50" stroke="#231f20" stroke-width="1.0"/>
<line x1="466.25" y1="270.70" x2="470.05" y2="270.70" stroke="#231f20" stroke-width="1.1"/>
<line x1="468.15" y1="315.50" x2="468.15" y2="317.70" stroke="#231f20" stroke-width="0.9"/>
<line x1="468.15" y1="264.20" x2="468.15" y2="267.00" stroke="#231f20" stroke-width="0.85"/>
<line x1="466.94" y1="264.90" x2="469.36" y2="266.30" stroke="#231f20" stroke-width="0.85"/>
<line x1="466.94" y1="266.30" x2="469.36" y2="264.90" stroke="#231f20" stroke-width="0.85"/>
<rect x="475.80" y="275.18" width="6.30" height="40.32" fill="#55286b" stroke="none" stroke-width="1"/>
<line x1="478.95" y1="270.70" x2="478.95" y2="275.18" stroke="#231f20" stroke-width="1.0"/>
<line x1="477.05" y1="270.70" x2="480.85" y2="270.70" stroke="#231f20" stroke-width="1.1"/>
<line x1="478.95" y1="315.50" x2="478.95" y2="317.70" stroke="#231f20" stroke-width="0.9"/>
<line x1="478.95" y1="264.20" x2="478.95" y2="267.00" stroke="#231f20" stroke-width="0.85"/>
<line x1="477.74" y1="264.90" x2="480.16" y2="266.30" stroke="#231f20" stroke-width="0.85"/>
<line x1="477.74" y1="266.30" x2="480.16" y2="264.90" stroke="#231f20" stroke-width="0.85"/>
<text x="465.00" y="232.00" font-size="11.04" text-anchor="middle" fill="#231f20" font-weight="normal" textLength="22.5" lengthAdjust="spacingAndGlyphs" stroke="#231f20" stroke-width="0.16">IFN-γ</text>
<text x="416.40" y="282.50" font-size="10.44" text-anchor="middle" fill="#231f20" font-weight="normal" textLength="87.5" lengthAdjust="spacingAndGlyphs" transform="rotate(-90 416.40 282.50)" stroke="#231f20" stroke-width="0.16">FC ΔMFI IFN-γ+ NK cells</text>
<line x1="440.00" y1="373.00" x2="440.00" y2="440.10" stroke="#231f20" stroke-width="1.4"/>
<line x1="438.20" y1="439.50" x2="486.30" y2="439.50" stroke="#231f20" stroke-width="1.4"/>
<line x1="437.20" y1="439.50" x2="440.00" y2="439.50" stroke="#231f20" stroke-width="1.1"/>
<text x="434.60" y="442.10" font-size="9.12" text-anchor="end" fill="#231f20" font-weight="normal" textLength="11.8" lengthAdjust="spacingAndGlyphs" stroke="#231f20" stroke-width="0.16">0.0</text>
<line x1="437.20" y1="411.65" x2="440.00" y2="411.65" stroke="#231f20" stroke-width="1.1"/>
<text x="434.60" y="414.25" font-size="9.12" text-anchor="end" fill="#231f20" font-weight="normal" textLength="11.8" lengthAdjust="spacingAndGlyphs" stroke="#231f20" stroke-width="0.16">0.5</text>
<line x1="437.20" y1="383.80" x2="440.00" y2="383.80" stroke="#231f20" stroke-width="1.1"/>
<text x="434.60" y="386.40" font-size="9.12" text-anchor="end" fill="#231f20" font-weight="normal" textLength="11.8" lengthAdjust="spacingAndGlyphs" stroke="#231f20" stroke-width="0.16">1.0</text>
<rect x="443.80" y="383.80" width="6.30" height="55.70" fill="#b0002e" stroke="none" stroke-width="1"/>
<line x1="446.95" y1="380.46" x2="446.95" y2="383.80" stroke="#231f20" stroke-width="1.0"/>
<line x1="445.05" y1="380.46" x2="448.85" y2="380.46" stroke="#231f20" stroke-width="1.1"/>
<line x1="446.95" y1="439.50" x2="446.95" y2="441.70" stroke="#231f20" stroke-width="0.9"/>
<rect x="454.50" y="389.93" width="6.30" height="49.57" fill="#2b4a87" stroke="none" stroke-width="1"/>
<line x1="457.65" y1="386.59" x2="457.65" y2="389.93" stroke="#231f20" stroke-width="1.0"/>
<line x1="455.75" y1="386.59" x2="459.55" y2="386.59" stroke="#231f20" stroke-width="1.1"/>
<line x1="457.65" y1="439.50" x2="457.65" y2="441.70" stroke="#231f20" stroke-width="0.9"/>
<text x="457.65" y="383.70" font-size="8.4" text-anchor="middle" fill="#231f20" font-weight="normal" textLength="7.6" lengthAdjust="spacingAndGlyphs" stroke="#231f20" stroke-width="0.16">ns</text>
<rect x="465.00" y="388.26" width="6.30" height="51.24" fill="#6aac3d" stroke="none" stroke-width="1"/>
<line x1="468.15" y1="384.36" x2="468.15" y2="388.26" stroke="#231f20" stroke-width="1.0"/>
<line x1="466.25" y1="384.36" x2="470.05" y2="384.36" stroke="#231f20" stroke-width="1.1"/>
<line x1="468.15" y1="439.50" x2="468.15" y2="441.70" stroke="#231f20" stroke-width="0.9"/>
<text x="468.15" y="383.20" font-size="8.4" text-anchor="middle" fill="#231f20" font-weight="normal" textLength="7.6" lengthAdjust="spacingAndGlyphs" stroke="#231f20" stroke-width="0.16">ns</text>
<rect x="475.80" y="401.07" width="6.30" height="38.43" fill="#55286b" stroke="none" stroke-width="1"/>
<line x1="478.95" y1="392.71" x2="478.95" y2="401.07" stroke="#231f20" stroke-width="1.0"/>
<line x1="477.05" y1="392.71" x2="480.85" y2="392.71" stroke="#231f20" stroke-width="1.1"/>
<line x1="478.95" y1="439.50" x2="478.95" y2="441.70" stroke="#231f20" stroke-width="0.9"/>
<text x="478.95" y="390.70" font-size="8.4" text-anchor="middle" fill="#231f20" font-weight="normal" textLength="7.6" lengthAdjust="spacingAndGlyphs" stroke="#231f20" stroke-width="0.16">ns</text>
<text x="463.10" y="364.60" font-size="11.04" text-anchor="middle" fill="#231f20" font-weight="normal" textLength="26.3" lengthAdjust="spacingAndGlyphs" stroke="#231f20" stroke-width="0.16">GzmB</text>
<text x="416.40" y="406.20" font-size="10.44" text-anchor="middle" fill="#231f20" font-weight="normal" textLength="87.5" lengthAdjust="spacingAndGlyphs" transform="rotate(-90 416.40 406.20)" stroke="#231f20" stroke-width="0.16">FC ΔMFI IFN-γ+ NK cells</text>
<text x="452.10" y="451.80" font-size="9.0" text-anchor="end" fill="#231f20" font-weight="normal" textLength="25.5" lengthAdjust="spacingAndGlyphs" transform="rotate(-45 452.10 451.80)" stroke="#231f20" stroke-width="0.1">DMSO</text>
<text x="462.60" y="451.80" font-size="9.0" text-anchor="end" fill="#231f20" font-weight="normal" textLength="34" lengthAdjust="spacingAndGlyphs" transform="rotate(-45 462.60 451.80)" stroke="#231f20" stroke-width="0.1">FABP4/5i</text>
<text x="472.80" y="451.80" font-size="9.0" text-anchor="end" fill="#231f20" font-weight="normal" textLength="30" lengthAdjust="spacingAndGlyphs" transform="rotate(-45 472.80 451.80)" stroke="#231f20" stroke-width="0.1">PPAR-γi</text>
<text x="483.80" y="451.80" font-size="9.0" text-anchor="end" fill="#231f20" font-weight="normal" textLength="72" lengthAdjust="spacingAndGlyphs" transform="rotate(-45 483.80 451.80)" stroke="#231f20" stroke-width="0.1">FABP4/5i + PPAR-γi</text>
<line x1="159.10" y1="248.70" x2="161.90" y2="248.70" stroke="#231f20" stroke-width="1.1"/>
<text x="156.30" y="251.40" font-size="9.36" text-anchor="end" fill="#231f20" font-weight="normal" textLength="19.0" lengthAdjust="spacingAndGlyphs" stroke="#231f20" stroke-width="0.16">1500</text>
<line x1="159.10" y1="271.20" x2="161.90" y2="271.20" stroke="#231f20" stroke-width="1.1"/>
<text x="156.30" y="273.90" font-size="9.36" text-anchor="end" fill="#231f20" font-weight="normal" textLength="19.0" lengthAdjust="spacingAndGlyphs" stroke="#231f20" stroke-width="0.16">1000</text>
<line x1="159.10" y1="293.50" x2="161.90" y2="293.50" stroke="#231f20" stroke-width="1.1"/>
<text x="156.30" y="296.20" font-size="9.36" text-anchor="end" fill="#231f20" font-weight="normal" textLength="14.25" lengthAdjust="spacingAndGlyphs" stroke="#231f20" stroke-width="0.16">500</text>
<line x1="159.10" y1="315.40" x2="161.90" y2="315.40" stroke="#231f20" stroke-width="1.1"/>
<text x="156.30" y="318.10" font-size="9.36" text-anchor="end" fill="#231f20" font-weight="normal" textLength="4.75" lengthAdjust="spacingAndGlyphs" stroke="#231f20" stroke-width="0.16">0</text>
<line x1="177.90" y1="247.70" x2="177.90" y2="315.40" stroke="#222" stroke-width="0.75" stroke-dasharray="0.9,1.6"/>
<line x1="198.50" y1="247.70" x2="198.50" y2="315.40" stroke="#222" stroke-width="0.75" stroke-dasharray="0.9,1.6"/>
<line x1="219.20" y1="247.70" x2="219.20" y2="315.40" stroke="#222" stroke-width="0.75" stroke-dasharray="0.9,1.6"/>
<line x1="161.90" y1="247.50" x2="161.90" y2="316.10" stroke="#231f20" stroke-width="1.4"/>
<line x1="161.20" y1="315.40" x2="243.80" y2="315.40" stroke="#231f20" stroke-width="1.4"/>
<line x1="161.90" y1="315.40" x2="161.90" y2="318.00" stroke="#231f20" stroke-width="1.0"/>
<text x="161.90" y="329.40" font-size="9.839999999999998" text-anchor="middle" fill="#231f20" font-weight="normal" textLength="4.6" lengthAdjust="spacingAndGlyphs" stroke="#231f20" stroke-width="0.16">0</text>
<text x="181.70" y="329.40" font-size="9.839999999999998" text-anchor="middle" fill="#231f20" font-weight="normal" textLength="9.2" lengthAdjust="spacingAndGlyphs" stroke="#231f20" stroke-width="0.16">20</text>
<text x="201.00" y="329.40" font-size="9.839999999999998" text-anchor="middle" fill="#231f20" font-weight="normal" textLength="9.2" lengthAdjust="spacingAndGlyphs" stroke="#231f20" stroke-width="0.16">40</text>
<text x="220.60" y="329.40" font-size="9.839999999999998" text-anchor="middle" fill="#231f20" font-weight="normal" textLength="9.2" lengthAdjust="spacingAndGlyphs" stroke="#231f20" stroke-width="0.16">60</text>
<line x1="241.30" y1="315.40" x2="241.30" y2="318.00" stroke="#231f20" stroke-width="1.0"/>
<text x="241.30" y="329.40" font-size="9.839999999999998" text-anchor="middle" fill="#231f20" font-weight="normal" textLength="9.2" lengthAdjust="spacingAndGlyphs" stroke="#231f20" stroke-width="0.16">80</text>
<line x1="177.90" y1="315.40" x2="177.90" y2="318.00" stroke="#231f20" stroke-width="1.0"/>
<line x1="198.50" y1="315.40" x2="198.50" y2="318.00" stroke="#231f20" stroke-width="1.0"/>
<line x1="219.20" y1="315.40" x2="219.20" y2="318.00" stroke="#231f20" stroke-width="1.0"/>
<text x="203.30" y="233.00" font-size="11.52" text-anchor="middle" fill="#231f20" font-weight="normal" textLength="42.5" lengthAdjust="spacingAndGlyphs" stroke="#231f20" stroke-width="0.16">OXPHOS</text>
<text x="203.10" y="343.60" font-size="10.319999999999999" text-anchor="middle" fill="#231f20" font-weight="normal" textLength="53" lengthAdjust="spacingAndGlyphs" stroke="#231f20" stroke-width="0.16">Time (minutes)</text>
<text x="130.90" y="281.50" font-size="10.56" text-anchor="middle" fill="#231f20" font-weight="normal" textLength="59" lengthAdjust="spacingAndGlyphs" transform="rotate(-90 130.90 281.50)" stroke="#231f20" stroke-width="0.16">OCR (pmol/min)</text>
<text x="169.20" y="244.70" font-size="7.5" text-anchor="start" fill="#231f20" font-weight="normal" textLength="17" lengthAdjust="spacingAndGlyphs" stroke="#231f20" stroke-width="0.1">Oligo</text>
<text x="190.20" y="244.70" font-size="7.5" text-anchor="start" fill="#231f20" font-weight="normal" textLength="16.7" lengthAdjust="spacingAndGlyphs" stroke="#231f20" stroke-width="0.1">FCCP</text>
<text x="209.60" y="244.70" font-size="7.5" text-anchor="start" fill="#231f20" font-weight="normal" textLength="23" lengthAdjust="spacingAndGlyphs" stroke="#231f20" stroke-width="0.1">Rot/AA</text>
<polyline points="163.10,301.50 168.70,301.10 174.00,301.90 179.80,304.40 185.20,306.30 190.40,307.80 196.20,309.20 201.00,276.50 206.70,270.80 212.10,270.80 217.70,271.30 223.10,314.00" fill="none" stroke="#5fae3a" stroke-width="1.0" stroke-linejoin="round"/>
<line x1="163.10" y1="298.00" x2="163.10" y2="305.00" stroke="#5fae3a" stroke-width="0.8"/>
<line x1="161.60" y1="298.00" x2="164.60" y2="298.00" stroke="#5fae3a" stroke-width="0.8"/>
<line x1="161.60" y1="305.00" x2="164.60" y2="305.00" stroke="#5fae3a" stroke-width="0.8"/>
<line x1="168.70" y1="297.60" x2="168.70" y2="304.60" stroke="#5fae3a" stroke-width="0.8"/>
<line x1="167.20" y1="297.60" x2="170.20" y2="297.60" stroke="#5fae3a" stroke-width="0.8"/>
<line x1="167.20" y1="304.60" x2="170.20" y2="304.60" stroke="#5fae3a" stroke-width="0.8"/>
<line x1="174.00" y1="298.40" x2="174.00" y2="305.40" stroke="#5fae3a" stroke-width="0.8"/>
<line x1="172.50" y1="298.40" x2="175.50" y2="298.40" stroke="#5fae3a" stroke-width="0.8"/>
<line x1="172.50" y1="305.40" x2="175.50" y2="305.40" stroke="#5fae3a" stroke-width="0.8"/>
<line x1="179.80" y1="301.40" x2="179.80" y2="307.40" stroke="#5fae3a" stroke-width="0.8"/>
<line x1="178.30" y1="301.40" x2="181.30" y2="301.40" stroke="#5fae3a" stroke-width="0.8"/>
<line x1="178.30" y1="307.40" x2="181.30" y2="307.40" stroke="#5fae3a" stroke-width="0.8"/>
<line x1="185.20" y1="303.30" x2="185.20" y2="309.30" stroke="#5fae3a" stroke-width="0.8"/>
<line x1="183.70" y1="303.30" x2="186.70" y2="303.30" stroke="#5fae3a" stroke-width="0.8"/>
<line x1="183.70" y1="309.30" x2="186.70" y2="309.30" stroke="#5fae3a" stroke-width="0.8"/>
<line x1="190.40" y1="304.80" x2="190.40" y2="310.80" stroke="#5fae3a" stroke-width="0.8"/>
<line x1="188.90" y1="304.80" x2="191.90" y2="304.80" stroke="#5fae3a" stroke-width="0.8"/>
<line x1="188.90" y1="310.80" x2="191.90" y2="310.80" stroke="#5fae3a" stroke-width="0.8"/>
<line x1="196.20" y1="306.70" x2="196.20" y2="311.70" stroke="#5fae3a" stroke-width="0.8"/>
<line x1="194.70" y1="306.70" x2="197.70" y2="306.70" stroke="#5fae3a" stroke-width="0.8"/>
<line x1="194.70" y1="311.70" x2="197.70" y2="311.70" stroke="#5fae3a" stroke-width="0.8"/>
<line x1="201.00" y1="273.50" x2="201.00" y2="279.50" stroke="#5fae3a" stroke-width="0.8"/>
<line x1="199.50" y1="273.50" x2="202.50" y2="273.50" stroke="#5fae3a" stroke-width="0.8"/>
<line x1="199.50" y1="279.50" x2="202.50" y2="279.50" stroke="#5fae3a" stroke-width="0.8"/>
<line x1="206.70" y1="267.80" x2="206.70" y2="273.80" stroke="#5fae3a" stroke-width="0.8"/>
<line x1="205.20" y1="267.80" x2="208.20" y2="267.80" stroke="#5fae3a" stroke-width="0.8"/>
<line x1="205.20" y1="273.80" x2="208.20" y2="273.80" stroke="#5fae3a" stroke-width="0.8"/>
<line x1="212.10" y1="267.80" x2="212.10" y2="273.80" stroke="#5fae3a" stroke-width="0.8"/>
<line x1="210.60" y1="267.80" x2="213.60" y2="267.80" stroke="#5fae3a" stroke-width="0.8"/>
<line x1="210.60" y1="273.80" x2="213.60" y2="273.80" stroke="#5fae3a" stroke-width="0.8"/>
<line x1="217.70" y1="268.30" x2="217.70" y2="274.30" stroke="#5fae3a" stroke-width="0.8"/>
<line x1="216.20" y1="268.30" x2="219.20" y2="268.30" stroke="#5fae3a" stroke-width="0.8"/>
<line x1="216.20" y1="274.30" x2="219.20" y2="274.30" stroke="#5fae3a" stroke-width="0.8"/>
<circle cx="163.10" cy="301.50" r="2.0" fill="#a6d88c" stroke="#5fae3a" stroke-width="0.9"/>
<circle cx="168.70" cy="301.10" r="2.0" fill="#a6d88c" stroke="#5fae3a" stroke-width="0.9"/>
<circle cx="174.00" cy="301.90" r="2.0" fill="#a6d88c" stroke="#5fae3a" stroke-width="0.9"/>
<circle cx="179.80" cy="304.40" r="2.0" fill="#a6d88c" stroke="#5fae3a" stroke-width="0.9"/>
<circle cx="185.20" cy="306.30" r="2.0" fill="#a6d88c" stroke="#5fae3a" stroke-width="0.9"/>
<circle cx="190.40" cy="307.80" r="2.0" fill="#a6d88c" stroke="#5fae3a" stroke-width="0.9"/>
<circle cx="196.20" cy="309.20" r="2.0" fill="#a6d88c" stroke="#5fae3a" stroke-width="0.9"/>
<circle cx="201.00" cy="276.50" r="2.0" fill="#a6d88c" stroke="#5fae3a" stroke-width="0.9"/>
<circle cx="206.70" cy="270.80" r="2.0" fill="#a6d88c" stroke="#5fae3a" stroke-width="0.9"/>
<circle cx="212.10" cy="270.80" r="2.0" fill="#a6d88c" stroke="#5fae3a" stroke-width="0.9"/>
<circle cx="217.70" cy="271.30" r="2.0" fill="#a6d88c" stroke="#5fae3a" stroke-width="0.9"/>
<circle cx="223.10" cy="314.00" r="2.0" fill="#a6d88c" stroke="#5fae3a" stroke-width="0.9"/>
<polyline points="163.10,306.30 168.70,306.30 174.00,306.90 179.80,309.20 185.20,310.60 190.40,311.70 196.20,311.70 201.00,297.70 206.70,296.70 212.10,297.10 217.70,298.30 223.10,314.00" fill="none" stroke="#3b5a9a" stroke-width="1.0" stroke-linejoin="round"/>
<line x1="163.10" y1="304.00" x2="163.10" y2="308.60" stroke="#3b5a9a" stroke-width="0.8"/>
<line x1="161.60" y1="304.00" x2="164.60" y2="304.00" stroke="#3b5a9a" stroke-width="0.8"/>
<line x1="161.60" y1="308.60" x2="164.60" y2="308.60" stroke="#3b5a9a" stroke-width="0.8"/>
<line x1="168.70" y1="304.00" x2="168.70" y2="308.60" stroke="#3b5a9a" stroke-width="0.8"/>
<line x1="167.20" y1="304.00" x2="170.20" y2="304.00" stroke="#3b5a9a" stroke-width="0.8"/>
<line x1="167.20" y1="308.60" x2="170.20" y2="308.60" stroke="#3b5a9a" stroke-width="0.8"/>
<line x1="174.00" y1="304.60" x2="174.00" y2="309.20" stroke="#3b5a9a" stroke-width="0.8"/>
<line x1="172.50" y1="304.60" x2="175.50" y2="304.60" stroke="#3b5a9a" stroke-width="0.8"/>
<line x1="172.50" y1="309.20" x2="175.50" y2="309.20" stroke="#3b5a9a" stroke-width="0.8"/>
<line x1="179.80" y1="307.20" x2="179.80" y2="311.20" stroke="#3b5a9a" stroke-width="0.8"/>
<line x1="178.30" y1="307.20" x2="181.30" y2="307.20" stroke="#3b5a9a" stroke-width="0.8"/>
<line x1="178.30" y1="311.20" x2="181.30" y2="311.20" stroke="#3b5a9a" stroke-width="0.8"/>
<line x1="185.20" y1="308.60" x2="185.20" y2="312.60" stroke="#3b5a9a" stroke-width="0.8"/>
<line x1="183.70" y1="308.60" x2="186.70" y2="308.60" stroke="#3b5a9a" stroke-width="0.8"/>
<line x1="183.70" y1="312.60" x2="186.70" y2="312.60" stroke="#3b5a9a" stroke-width="0.8"/>
<line x1="190.40" y1="309.70" x2="190.40" y2="313.70" stroke="#3b5a9a" stroke-width="0.8"/>
<line x1="188.90" y1="309.70" x2="191.90" y2="309.70" stroke="#3b5a9a" stroke-width="0.8"/>
<line x1="188.90" y1="313.70" x2="191.90" y2="313.70" stroke="#3b5a9a" stroke-width="0.8"/>
<line x1="196.20" y1="309.70" x2="196.20" y2="313.70" stroke="#3b5a9a" stroke-width="0.8"/>
<line x1="194.70" y1="309.70" x2="197.70" y2="309.70" stroke="#3b5a9a" stroke-width="0.8"/>
<line x1="194.70" y1="313.70" x2="197.70" y2="313.70" stroke="#3b5a9a" stroke-width="0.8"/>
<line x1="201.00" y1="294.90" x2="201.00" y2="300.50" stroke="#3b5a9a" stroke-width="0.8"/>
<line x1="199.50" y1="294.90" x2="202.50" y2="294.90" stroke="#3b5a9a" stroke-width="0.8"/>
<line x1="199.50" y1="300.50" x2="202.50" y2="300.50" stroke="#3b5a9a" stroke-width="0.8"/>
<line x1="206.70" y1="293.90" x2="206.70" y2="299.50" stroke="#3b5a9a" stroke-width="0.8"/>
<line x1="205.20" y1="293.90" x2="208.20" y2="293.90" stroke="#3b5a9a" stroke-width="0.8"/>
<line x1="205.20" y1="299.50" x2="208.20" y2="299.50" stroke="#3b5a9a" stroke-width="0.8"/>
<line x1="212.10" y1="294.30" x2="212.10" y2="299.90" stroke="#3b5a9a" stroke-width="0.8"/>
<line x1="210.60" y1="294.30" x2="213.60" y2="294.30" stroke="#3b5a9a" stroke-width="0.8"/>
<line x1="210.60" y1="299.90" x2="213.60" y2="299.90" stroke="#3b5a9a" stroke-width="0.8"/>
<line x1="217.70" y1="295.50" x2="217.70" y2="301.10" stroke="#3b5a9a" stroke-width="0.8"/>
<line x1="216.20" y1="295.50" x2="219.20" y2="295.50" stroke="#3b5a9a" stroke-width="0.8"/>
<line x1="216.20" y1="301.10" x2="219.20" y2="301.10" stroke="#3b5a9a" stroke-width="0.8"/>
<circle cx="163.10" cy="306.30" r="2.0" fill="#a9b4d6" stroke="#3b5a9a" stroke-width="0.9"/>
<circle cx="168.70" cy="306.30" r="2.0" fill="#a9b4d6" stroke="#3b5a9a" stroke-width="0.9"/>
<circle cx="174.00" cy="306.90" r="2.0" fill="#a9b4d6" stroke="#3b5a9a" stroke-width="0.9"/>
<circle cx="179.80" cy="309.20" r="2.0" fill="#a9b4d6" stroke="#3b5a9a" stroke-width="0.9"/>
<circle cx="185.20" cy="310.60" r="2.0" fill="#a9b4d6" stroke="#3b5a9a" stroke-width="0.9"/>
<circle cx="190.40" cy="311.70" r="2.0" fill="#a9b4d6" stroke="#3b5a9a" stroke-width="0.9"/>
<circle cx="196.20" cy="311.70" r="2.0" fill="#a9b4d6" stroke="#3b5a9a" stroke-width="0.9"/>
<circle cx="201.00" cy="297.70" r="2.0" fill="#a9b4d6" stroke="#3b5a9a" stroke-width="0.9"/>
<circle cx="206.70" cy="296.70" r="2.0" fill="#a9b4d6" stroke="#3b5a9a" stroke-width="0.9"/>
<circle cx="212.10" cy="297.10" r="2.0" fill="#a9b4d6" stroke="#3b5a9a" stroke-width="0.9"/>
<circle cx="217.70" cy="298.30" r="2.0" fill="#a9b4d6" stroke="#3b5a9a" stroke-width="0.9"/>
<circle cx="223.10" cy="314.00" r="2.0" fill="#a9b4d6" stroke="#3b5a9a" stroke-width="0.9"/>
<polyline points="163.10,297.30 168.70,297.70 174.00,298.30 179.80,301.90 185.20,303.50 190.40,304.40 196.20,306.30 201.00,269.80 206.70,262.10 212.10,261.20 217.70,261.70 223.10,313.70 228.80,313.10 234.60,312.50" fill="none" stroke="#c0163d" stroke-width="1.0" stroke-linejoin="round"/>
<line x1="163.10" y1="292.10" x2="163.10" y2="302.50" stroke="#c0163d" stroke-width="0.8"/>
<line x1="161.60" y1="292.10" x2="164.60" y2="292.10" stroke="#c0163d" stroke-width="0.8"/>
<line x1="161.60" y1="302.50" x2="164.60" y2="302.50" stroke="#c0163d" stroke-width="0.8"/>
<line x1="168.70" y1="292.50" x2="168.70" y2="302.90" stroke="#c0163d" stroke-width="0.8"/>
<line x1="167.20" y1="292.50" x2="170.20" y2="292.50" stroke="#c0163d" stroke-width="0.8"/>
<line x1="167.20" y1="302.90" x2="170.20" y2="302.90" stroke="#c0163d" stroke-width="0.8"/>
<line x1="174.00" y1="293.30" x2="174.00" y2="303.30" stroke="#c0163d" stroke-width="0.8"/>
<line x1="172.50" y1="293.30" x2="175.50" y2="293.30" stroke="#c0163d" stroke-width="0.8"/>
<line x1="172.50" y1="303.30" x2="175.50" y2="303.30" stroke="#c0163d" stroke-width="0.8"/>
<line x1="179.80" y1="297.40" x2="179.80" y2="306.40" stroke="#c0163d" stroke-width="0.8"/>
<line x1="178.30" y1="297.40" x2="181.30" y2="297.40" stroke="#c0163d" stroke-width="0.8"/>
<line x1="178.30" y1="306.40" x2="181.30" y2="306.40" stroke="#c0163d" stroke-width="0.8"/>
<line x1="185.20" y1="299.50" x2="185.20" y2="307.50" stroke="#c0163d" stroke-width="0.8"/>
<line x1="183.70" y1="299.50" x2="186.70" y2="299.50" stroke="#c0163d" stroke-width="0.8"/>
<line x1="183.70" y1="307.50" x2="186.70" y2="307.50" stroke="#c0163d" stroke-width="0.8"/>
<line x1="190.40" y1="300.60" x2="190.40" y2="308.20" stroke="#c0163d" stroke-width="0.8"/>
<line x1="188.90" y1="300.60" x2="191.90" y2="300.60" stroke="#c0163d" stroke-width="0.8"/>
<line x1="188.90" y1="308.20" x2="191.90" y2="308.20" stroke="#c0163d" stroke-width="0.8"/>
<line x1="196.20" y1="302.80" x2="196.20" y2="309.80" stroke="#c0163d" stroke-width="0.8"/>
<line x1="194.70" y1="302.80" x2="197.70" y2="302.80" stroke="#c0163d" stroke-width="0.8"/>
<line x1="194.70" y1="309.80" x2="197.70" y2="309.80" stroke="#c0163d" stroke-width="0.8"/>
<line x1="201.00" y1="265.80" x2="201.00" y2="273.80" stroke="#c0163d" stroke-width="0.8"/>
<line x1="199.50" y1="265.80" x2="202.50" y2="265.80" stroke="#c0163d" stroke-width="0.8"/>
<line x1="199.50" y1="273.80" x2="202.50" y2="273.80" stroke="#c0163d" stroke-width="0.8"/>
<line x1="206.70" y1="257.90" x2="206.70" y2="266.30" stroke="#c0163d" stroke-width="0.8"/>
<line x1="205.20" y1="257.90" x2="208.20" y2="257.90" stroke="#c0163d" stroke-width="0.8"/>
<line x1="205.20" y1="266.30" x2="208.20" y2="266.30" stroke="#c0163d" stroke-width="0.8"/>
<line x1="212.10" y1="257.00" x2="212.10" y2="265.40" stroke="#c0163d" stroke-width="0.8"/>
<line x1="210.60" y1="257.00" x2="213.60" y2="257.00" stroke="#c0163d" stroke-width="0.8"/>
<line x1="210.60" y1="265.40" x2="213.60" y2="265.40" stroke="#c0163d" stroke-width="0.8"/>
<line x1="217.70" y1="257.50" x2="217.70" y2="265.90" stroke="#c0163d" stroke-width="0.8"/>
<line x1="216.20" y1="257.50" x2="219.20" y2="257.50" stroke="#c0163d" stroke-width="0.8"/>
<line x1="216.20" y1="265.90" x2="219.20" y2="265.90" stroke="#c0163d" stroke-width="0.8"/>
<circle cx="163.10" cy="297.30" r="2.0" fill="#fff" stroke="#c0163d" stroke-width="0.9"/>
<circle cx="168.70" cy="297.70" r="2.0" fill="#fff" stroke="#c0163d" stroke-width="0.9"/>
<circle cx="174.00" cy="298.30" r="2.0" fill="#fff" stroke="#c0163d" stroke-width="0.9"/>
<circle cx="179.80" cy="301.90" r="2.0" fill="#fff" stroke="#c0163d" stroke-width="0.9"/>
<circle cx="185.20" cy="303.50" r="2.0" fill="#fff" stroke="#c0163d" stroke-width="0.9"/>
<circle cx="190.40" cy="304.40" r="2.0" fill="#fff" stroke="#c0163d" stroke-width="0.9"/>
<circle cx="196.20" cy="306.30" r="2.0" fill="#fff" stroke="#c0163d" stroke-width="0.9"/>
<circle cx="201.00" cy="269.80" r="2.0" fill="#fff" stroke="#c0163d" stroke-width="0.9"/>
<circle cx="206.70" cy="262.10" r="2.0" fill="#fff" stroke="#c0163d" stroke-width="0.9"/>
<circle cx="212.10" cy="261.20" r="2.0" fill="#fff" stroke="#c0163d" stroke-width="0.9"/>
<circle cx="217.70" cy="261.70" r="2.0" fill="#fff" stroke="#c0163d" stroke-width="0.9"/>
<circle cx="223.10" cy="313.70" r="2.0" fill="#fff" stroke="#c0163d" stroke-width="0.9"/>
<circle cx="228.80" cy="313.10" r="2.0" fill="#fff" stroke="#c0163d" stroke-width="0.9"/>
<circle cx="234.60" cy="312.50" r="2.0" fill="#fff" stroke="#c0163d" stroke-width="0.9"/>
<line x1="304.10" y1="248.70" x2="306.90" y2="248.70" stroke="#231f20" stroke-width="1.1"/>
<text x="301.30" y="251.40" font-size="9.36" text-anchor="end" fill="#231f20" font-weight="normal" textLength="19.0" lengthAdjust="spacingAndGlyphs" stroke="#231f20" stroke-width="0.16">1000</text>
<line x1="304.10" y1="262.50" x2="306.90" y2="262.50" stroke="#231f20" stroke-width="1.1"/>
<text x="301.30" y="265.20" font-size="9.36" text-anchor="end" fill="#231f20" font-weight="normal" textLength="14.25" lengthAdjust="spacingAndGlyphs" stroke="#231f20" stroke-width="0.16">800</text>
<line x1="304.10" y1="275.80" x2="306.90" y2="275.80" stroke="#231f20" stroke-width="1.1"/>
<text x="301.30" y="278.50" font-size="9.36" text-anchor="end" fill="#231f20" font-weight="normal" textLength="14.25" lengthAdjust="spacingAndGlyphs" stroke="#231f20" stroke-width="0.16">600</text>
<line x1="304.10" y1="289.00" x2="306.90" y2="289.00" stroke="#231f20" stroke-width="1.1"/>
<text x="301.30" y="291.70" font-size="9.36" text-anchor="end" fill="#231f20" font-weight="normal" textLength="14.25" lengthAdjust="spacingAndGlyphs" stroke="#231f20" stroke-width="0.16">400</text>
<line x1="304.10" y1="302.10" x2="306.90" y2="302.10" stroke="#231f20" stroke-width="1.1"/>
<text x="301.30" y="304.80" font-size="9.36" text-anchor="end" fill="#231f20" font-weight="normal" textLength="14.25" lengthAdjust="spacingAndGlyphs" stroke="#231f20" stroke-width="0.16">200</text>
<line x1="304.10" y1="315.40" x2="306.90" y2="315.40" stroke="#231f20" stroke-width="1.1"/>
<text x="301.30" y="318.10" font-size="9.36" text-anchor="end" fill="#231f20" font-weight="normal" textLength="4.75" lengthAdjust="spacingAndGlyphs" stroke="#231f20" stroke-width="0.16">0</text>
<line x1="322.90" y1="247.70" x2="322.90" y2="315.40" stroke="#222" stroke-width="0.75" stroke-dasharray="0.9,1.6"/>
<line x1="343.50" y1="247.70" x2="343.50" y2="315.40" stroke="#222" stroke-width="0.75" stroke-dasharray="0.9,1.6"/>
<line x1="364.20" y1="247.70" x2="364.20" y2="315.40" stroke="#222" stroke-width="0.75" stroke-dasharray="0.9,1.6"/>
<line x1="306.90" y1="247.50" x2="306.90" y2="316.10" stroke="#231f20" stroke-width="1.4"/>
<line x1="306.20" y1="315.40" x2="389.20" y2="315.40" stroke="#231f20" stroke-width="1.4"/>
<line x1="306.90" y1="315.40" x2="306.90" y2="318.00" stroke="#231f20" stroke-width="1.0"/>
<text x="306.90" y="329.40" font-size="9.839999999999998" text-anchor="middle" fill="#231f20" font-weight="normal" textLength="4.6" lengthAdjust="spacingAndGlyphs" stroke="#231f20" stroke-width="0.16">0</text>
<text x="326.70" y="329.40" font-size="9.839999999999998" text-anchor="middle" fill="#231f20" font-weight="normal" textLength="9.2" lengthAdjust="spacingAndGlyphs" stroke="#231f20" stroke-width="0.16">20</text>
<text x="346.00" y="329.40" font-size="9.839999999999998" text-anchor="middle" fill="#231f20" font-weight="normal" textLength="9.2" lengthAdjust="spacingAndGlyphs" stroke="#231f20" stroke-width="0.16">40</text>
<text x="365.80" y="329.40" font-size="9.839999999999998" text-anchor="middle" fill="#231f20" font-weight="normal" textLength="9.2" lengthAdjust="spacingAndGlyphs" stroke="#231f20" stroke-width="0.16">60</text>
<line x1="386.30" y1="315.40" x2="386.30" y2="318.00" stroke="#231f20" stroke-width="1.0"/>
<text x="386.30" y="329.40" font-size="9.839999999999998" text-anchor="middle" fill="#231f20" font-weight="normal" textLength="9.2" lengthAdjust="spacingAndGlyphs" stroke="#231f20" stroke-width="0.16">80</text>
<line x1="322.90" y1="315.40" x2="322.90" y2="318.00" stroke="#231f20" stroke-width="1.0"/>
<line x1="343.50" y1="315.40" x2="343.50" y2="318.00" stroke="#231f20" stroke-width="1.0"/>
<line x1="364.20" y1="315.40" x2="364.20" y2="318.00" stroke="#231f20" stroke-width="1.0"/>
<text x="348.00" y="233.00" font-size="11.52" text-anchor="middle" fill="#231f20" font-weight="normal" textLength="43.6" lengthAdjust="spacingAndGlyphs" stroke="#231f20" stroke-width="0.16">Glycolysis</text>
<text x="348.30" y="343.60" font-size="10.319999999999999" text-anchor="middle" fill="#231f20" font-weight="normal" textLength="53" lengthAdjust="spacingAndGlyphs" stroke="#231f20" stroke-width="0.16">Time (minutes)</text>
<text x="276.30" y="281.00" font-size="10.56" text-anchor="middle" fill="#231f20" font-weight="normal" textLength="60" lengthAdjust="spacingAndGlyphs" transform="rotate(-90 276.30 281.00)" stroke="#231f20" stroke-width="0.16">ECAR (mpH/min)</text>
<text x="314.10" y="244.70" font-size="7.5" text-anchor="start" fill="#231f20" font-weight="normal" textLength="17.2" lengthAdjust="spacingAndGlyphs" stroke="#231f20" stroke-width="0.1">Oligo</text>
<text x="335.10" y="244.70" font-size="7.5" text-anchor="start" fill="#231f20" font-weight="normal" textLength="17.2" lengthAdjust="spacingAndGlyphs" stroke="#231f20" stroke-width="0.1">FCCP</text>
<text x="355.00" y="244.70" font-size="7.5" text-anchor="start" fill="#231f20" font-weight="normal" textLength="22.9" lengthAdjust="spacingAndGlyphs" stroke="#231f20" stroke-width="0.1">Rot/AA</text>
<polyline points="308.10,278.50 313.70,282.30 319.00,278.50 324.80,274.60 330.20,271.70 335.40,272.70 340.80,271.70 346.30,265.00 352.10,266.90 357.50,268.50 362.90,267.90 368.50,264.00 373.80,266.00 379.00,266.90" fill="none" stroke="#5fae3a" stroke-width="1.0" stroke-linejoin="round"/>
<line x1="308.10" y1="274.50" x2="308.10" y2="282.50" stroke="#5fae3a" stroke-width="0.8"/>
<line x1="306.60" y1="274.50" x2="309.60" y2="274.50" stroke="#5fae3a" stroke-width="0.8"/>
<line x1="306.60" y1="282.50" x2="309.60" y2="282.50" stroke="#5fae3a" stroke-width="0.8"/>
<line x1="313.70" y1="278.30" x2="313.70" y2="286.30" stroke="#5fae3a" stroke-width="0.8"/>
<line x1="312.20" y1="278.30" x2="315.20" y2="278.30" stroke="#5fae3a" stroke-width="0.8"/>
<line x1="312.20" y1="286.30" x2="315.20" y2="286.30" stroke="#5fae3a" stroke-width="0.8"/>
<line x1="319.00" y1="274.50" x2="319.00" y2="282.50" stroke="#5fae3a" stroke-width="0.8"/>
<line x1="317.50" y1="274.50" x2="320.50" y2="274.50" stroke="#5fae3a" stroke-width="0.8"/>
<line x1="317.50" y1="282.50" x2="320.50" y2="282.50" stroke="#5fae3a" stroke-width="0.8"/>
<line x1="324.80" y1="270.60" x2="324.80" y2="278.60" stroke="#5fae3a" stroke-width="0.8"/>
<line x1="323.30" y1="270.60" x2="326.30" y2="270.60" stroke="#5fae3a" stroke-width="0.8"/>
<line x1="323.30" y1="278.60" x2="326.30" y2="278.60" stroke="#5fae3a" stroke-width="0.8"/>
<line x1="330.20" y1="267.70" x2="330.20" y2="275.70" stroke="#5fae3a" stroke-width="0.8"/>
<line x1="328.70" y1="267.70" x2="331.70" y2="267.70" stroke="#5fae3a" stroke-width="0.8"/>
<line x1="328.70" y1="275.70" x2="331.70" y2="275.70" stroke="#5fae3a" stroke-width="0.8"/>
<line x1="335.40" y1="268.70" x2="335.40" y2="276.70" stroke="#5fae3a" stroke-width="0.8"/>
<line x1="333.90" y1="268.70" x2="336.90" y2="268.70" stroke="#5fae3a" stroke-width="0.8"/>
<line x1="333.90" y1="276.70" x2="336.90" y2="276.70" stroke="#5fae3a" stroke-width="0.8"/>
<line x1="340.80" y1="267.70" x2="340.80" y2="275.70" stroke="#5fae3a" stroke-width="0.8"/>
<line x1="339.30" y1="267.70" x2="342.30" y2="267.70" stroke="#5fae3a" stroke-width="0.8"/>
<line x1="339.30" y1="275.70" x2="342.30" y2="275.70" stroke="#5fae3a" stroke-width="0.8"/>
<line x1="346.30" y1="261.00" x2="346.30" y2="269.00" stroke="#5fae3a" stroke-width="0.8"/>
<line x1="344.80" y1="261.00" x2="347.80" y2="261.00" stroke="#5fae3a" stroke-width="0.8"/>
<line x1="344.80" y1="269.00" x2="347.80" y2="269.00" stroke="#5fae3a" stroke-width="0.8"/>
<line x1="352.10" y1="262.90" x2="352.10" y2="270.90" stroke="#5fae3a" stroke-width="0.8"/>
<line x1="350.60" y1="262.90" x2="353.60" y2="262.90" stroke="#5fae3a" stroke-width="0.8"/>
<line x1="350.60" y1="270.90" x2="353.60" y2="270.90" stroke="#5fae3a" stroke-width="0.8"/>
<line x1="357.50" y1="264.50" x2="357.50" y2="272.50" stroke="#5fae3a" stroke-width="0.8"/>
<line x1="356.00" y1="264.50" x2="359.00" y2="264.50" stroke="#5fae3a" stroke-width="0.8"/>
<line x1="356.00" y1="272.50" x2="359.00" y2="272.50" stroke="#5fae3a" stroke-width="0.8"/>
<line x1="362.90" y1="263.90" x2="362.90" y2="271.90" stroke="#5fae3a" stroke-width="0.8"/>
<line x1="361.40" y1="263.90" x2="364.40" y2="263.90" stroke="#5fae3a" stroke-width="0.8"/>
<line x1="361.40" y1="271.90" x2="364.40" y2="271.90" stroke="#5fae3a" stroke-width="0.8"/>
<line x1="368.50" y1="260.00" x2="368.50" y2="268.00" stroke="#5fae3a" stroke-width="0.8"/>
<line x1="367.00" y1="260.00" x2="370.00" y2="260.00" stroke="#5fae3a" stroke-width="0.8"/>
<line x1="367.00" y1="268.00" x2="370.00" y2="268.00" stroke="#5fae3a" stroke-width="0.8"/>
<line x1="373.80" y1="262.00" x2="373.80" y2="270.00" stroke="#5fae3a" stroke-width="0.8"/>
<line x1="372.30" y1="262.00" x2="375.30" y2="262.00" stroke="#5fae3a" stroke-width="0.8"/>
<line x1="372.30" y1="270.00" x2="375.30" y2="270.00" stroke="#5fae3a" stroke-width="0.8"/>
<line x1="379.00" y1="262.90" x2="379.00" y2="270.90" stroke="#5fae3a" stroke-width="0.8"/>
<line x1="377.50" y1="262.90" x2="380.50" y2="262.90" stroke="#5fae3a" stroke-width="0.8"/>
<line x1="377.50" y1="270.90" x2="380.50" y2="270.90" stroke="#5fae3a" stroke-width="0.8"/>
<circle cx="308.10" cy="278.50" r="2.0" fill="#a6d88c" stroke="#5fae3a" stroke-width="0.9"/>
<circle cx="313.70" cy="282.30" r="2.0" fill="#a6d88c" stroke="#5fae3a" stroke-width="0.9"/>
<circle cx="319.00" cy="278.50" r="2.0" fill="#a6d88c" stroke="#5fae3a" stroke-width="0.9"/>
<circle cx="324.80" cy="274.60" r="2.0" fill="#a6d88c" stroke="#5fae3a" stroke-width="0.9"/>
<circle cx="330.20" cy="271.70" r="2.0" fill="#a6d88c" stroke="#5fae3a" stroke-width="0.9"/>
<circle cx="335.40" cy="272.70" r="2.0" fill="#a6d88c" stroke="#5fae3a" stroke-width="0.9"/>
<circle cx="340.80" cy="271.70" r="2.0" fill="#a6d88c" stroke="#5fae3a" stroke-width="0.9"/>
<circle cx="346.30" cy="265.00" r="2.0" fill="#a6d88c" stroke="#5fae3a" stroke-width="0.9"/>
<circle cx="352.10" cy="266.90" r="2.0" fill="#a6d88c" stroke="#5fae3a" stroke-width="0.9"/>
<circle cx="357.50" cy="268.50" r="2.0" fill="#a6d88c" stroke="#5fae3a" stroke-width="0.9"/>
<circle cx="362.90" cy="267.90" r="2.0" fill="#a6d88c" stroke="#5fae3a" stroke-width="0.9"/>
<circle cx="368.50" cy="264.00" r="2.0" fill="#a6d88c" stroke="#5fae3a" stroke-width="0.9"/>
<circle cx="373.80" cy="266.00" r="2.0" fill="#a6d88c" stroke="#5fae3a" stroke-width="0.9"/>
<circle cx="379.00" cy="266.90" r="2.0" fill="#a6d88c" stroke="#5fae3a" stroke-width="0.9"/>
<polyline points="308.10,296.20 313.70,297.10 319.00,297.70 324.80,296.70 330.20,296.70 335.40,296.70 340.80,296.30 346.30,291.90 352.10,291.90 357.50,292.30 362.90,292.30 368.50,291.90 373.80,291.90 379.00,291.90" fill="none" stroke="#3b5a9a" stroke-width="1.0" stroke-linejoin="round"/>
<line x1="308.10" y1="289.50" x2="308.10" y2="302.90" stroke="#3b5a9a" stroke-width="0.8"/>
<line x1="306.60" y1="289.50" x2="309.60" y2="289.50" stroke="#3b5a9a" stroke-width="0.8"/>
<line x1="306.60" y1="302.90" x2="309.60" y2="302.90" stroke="#3b5a9a" stroke-width="0.8"/>
<line x1="313.70" y1="290.40" x2="313.70" y2="303.80" stroke="#3b5a9a" stroke-width="0.8"/>
<line x1="312.20" y1="290.40" x2="315.20" y2="290.40" stroke="#3b5a9a" stroke-width="0.8"/>
<line x1="312.20" y1="303.80" x2="315.20" y2="303.80" stroke="#3b5a9a" stroke-width="0.8"/>
<line x1="319.00" y1="291.00" x2="319.00" y2="304.40" stroke="#3b5a9a" stroke-width="0.8"/>
<line x1="317.50" y1="291.00" x2="320.50" y2="291.00" stroke="#3b5a9a" stroke-width="0.8"/>
<line x1="317.50" y1="304.40" x2="320.50" y2="304.40" stroke="#3b5a9a" stroke-width="0.8"/>
<line x1="324.80" y1="290.00" x2="324.80" y2="303.40" stroke="#3b5a9a" stroke-width="0.8"/>
<line x1="323.30" y1="290.00" x2="326.30" y2="290.00" stroke="#3b5a9a" stroke-width="0.8"/>
<line x1="323.30" y1="303.40" x2="326.30" y2="303.40" stroke="#3b5a9a" stroke-width="0.8"/>
<line x1="330.20" y1="290.00" x2="330.20" y2="303.40" stroke="#3b5a9a" stroke-width="0.8"/>
<line x1="328.70" y1="290.00" x2="331.70" y2="290.00" stroke="#3b5a9a" stroke-width="0.8"/>
<line x1="328.70" y1="303.40" x2="331.70" y2="303.40" stroke="#3b5a9a" stroke-width="0.8"/>
<line x1="335.40" y1="290.00" x2="335.40" y2="303.40" stroke="#3b5a9a" stroke-width="0.8"/>
<line x1="333.90" y1="290.00" x2="336.90" y2="290.00" stroke="#3b5a9a" stroke-width="0.8"/>
<line x1="333.90" y1="303.40" x2="336.90" y2="303.40" stroke="#3b5a9a" stroke-width="0.8"/>
<line x1="340.80" y1="289.60" x2="340.80" y2="303.00" stroke="#3b5a9a" stroke-width="0.8"/>
<line x1="339.30" y1="289.60" x2="342.30" y2="289.60" stroke="#3b5a9a" stroke-width="0.8"/>
<line x1="339.30" y1="303.00" x2="342.30" y2="303.00" stroke="#3b5a9a" stroke-width="0.8"/>
<line x1="346.30" y1="285.20" x2="346.30" y2="298.60" stroke="#3b5a9a" stroke-width="0.8"/>
<line x1="344.80" y1="285.20" x2="347.80" y2="285.20" stroke="#3b5a9a" stroke-width="0.8"/>
<line x1="344.80" y1="298.60" x2="347.80" y2="298.60" stroke="#3b5a9a" stroke-width="0.8"/>
<line x1="352.10" y1="285.20" x2="352.10" y2="298.60" stroke="#3b5a9a" stroke-width="0.8"/>
<line x1="350.60" y1="285.20" x2="353.60" y2="285.20" stroke="#3b5a9a" stroke-width="0.8"/>
<line x1="350.60" y1="298.60" x2="353.60" y2="298.60" stroke="#3b5a9a" stroke-width="0.8"/>
<line x1="357.50" y1="285.60" x2="357.50" y2="299.00" stroke="#3b5a9a" stroke-width="0.8"/>
<line x1="356.00" y1="285.60" x2="359.00" y2="285.60" stroke="#3b5a9a" stroke-width="0.8"/>
<line x1="356.00" y1="299.00" x2="359.00" y2="299.00" stroke="#3b5a9a" stroke-width="0.8"/>
<line x1="362.90" y1="285.60" x2="362.90" y2="299.00" stroke="#3b5a9a" stroke-width="0.8"/>
<line x1="361.40" y1="285.60" x2="364.40" y2="285.60" stroke="#3b5a9a" stroke-width="0.8"/>
<line x1="361.40" y1="299.00" x2="364.40" y2="299.00" stroke="#3b5a9a" stroke-width="0.8"/>
<line x1="368.50" y1="285.20" x2="368.50" y2="298.60" stroke="#3b5a9a" stroke-width="0.8"/>
<line x1="367.00" y1="285.20" x2="370.00" y2="285.20" stroke="#3b5a9a" stroke-width="0.8"/>
<line x1="367.00" y1="298.60" x2="370.00" y2="298.60" stroke="#3b5a9a" stroke-width="0.8"/>
<line x1="373.80" y1="285.20" x2="373.80" y2="298.60" stroke="#3b5a9a" stroke-width="0.8"/>
<line x1="372.30" y1="285.20" x2="375.30" y2="285.20" stroke="#3b5a9a" stroke-width="0.8"/>
<line x1="372.30" y1="298.60" x2="375.30" y2="298.60" stroke="#3b5a9a" stroke-width="0.8"/>
<line x1="379.00" y1="285.20" x2="379.00" y2="298.60" stroke="#3b5a9a" stroke-width="0.8"/>
<line x1="377.50" y1="285.20" x2="380.50" y2="285.20" stroke="#3b5a9a" stroke-width="0.8"/>
<line x1="377.50" y1="298.60" x2="380.50" y2="298.60" stroke="#3b5a9a" stroke-width="0.8"/>
<circle cx="308.10" cy="296.20" r="2.0" fill="#a9b4d6" stroke="#3b5a9a" stroke-width="0.9"/>
<circle cx="313.70" cy="297.10" r="2.0" fill="#a9b4d6" stroke="#3b5a9a" stroke-width="0.9"/>
<circle cx="319.00" cy="297.70" r="2.0" fill="#a9b4d6" stroke="#3b5a9a" stroke-width="0.9"/>
<circle cx="324.80" cy="296.70" r="2.0" fill="#a9b4d6" stroke="#3b5a9a" stroke-width="0.9"/>
<circle cx="330.20" cy="296.70" r="2.0" fill="#a9b4d6" stroke="#3b5a9a" stroke-width="0.9"/>
<circle cx="335.40" cy="296.70" r="2.0" fill="#a9b4d6" stroke="#3b5a9a" stroke-width="0.9"/>
<circle cx="340.80" cy="296.30" r="2.0" fill="#a9b4d6" stroke="#3b5a9a" stroke-width="0.9"/>
<circle cx="346.30" cy="291.90" r="2.0" fill="#a9b4d6" stroke="#3b5a9a" stroke-width="0.9"/>
<circle cx="352.10" cy="291.90" r="2.0" fill="#a9b4d6" stroke="#3b5a9a" stroke-width="0.9"/>
<circle cx="357.50" cy="292.30" r="2.0" fill="#a9b4d6" stroke="#3b5a9a" stroke-width="0.9"/>
<circle cx="362.90" cy="292.30" r="2.0" fill="#a9b4d6" stroke="#3b5a9a" stroke-width="0.9"/>
<circle cx="368.50" cy="291.90" r="2.0" fill="#a9b4d6" stroke="#3b5a9a" stroke-width="0.9"/>
<circle cx="373.80" cy="291.90" r="2.0" fill="#a9b4d6" stroke="#3b5a9a" stroke-width="0.9"/>
<circle cx="379.00" cy="291.90" r="2.0" fill="#a9b4d6" stroke="#3b5a9a" stroke-width="0.9"/>
<polyline points="308.10,274.60 313.70,276.20 319.00,274.20 324.80,270.40 330.20,271.30 335.40,272.30 340.80,271.20 346.30,267.50 352.10,268.80 357.50,269.80 362.90,268.50 368.50,265.60 373.80,267.50 379.00,269.40" fill="none" stroke="#c0163d" stroke-width="1.0" stroke-linejoin="round"/>
<line x1="308.10" y1="270.10" x2="308.10" y2="279.10" stroke="#c0163d" stroke-width="0.8"/>
<line x1="306.60" y1="270.10" x2="309.60" y2="270.10" stroke="#c0163d" stroke-width="0.8"/>
<line x1="306.60" y1="279.10" x2="309.60" y2="279.10" stroke="#c0163d" stroke-width="0.8"/>
<line x1="313.70" y1="271.70" x2="313.70" y2="280.70" stroke="#c0163d" stroke-width="0.8"/>
<line x1="312.20" y1="271.70" x2="315.20" y2="271.70" stroke="#c0163d" stroke-width="0.8"/>
<line x1="312.20" y1="280.70" x2="315.20" y2="280.70" stroke="#c0163d" stroke-width="0.8"/>
<line x1="319.00" y1="269.20" x2="319.00" y2="279.20" stroke="#c0163d" stroke-width="0.8"/>
<line x1="317.50" y1="269.20" x2="320.50" y2="269.20" stroke="#c0163d" stroke-width="0.8"/>
<line x1="317.50" y1="279.20" x2="320.50" y2="279.20" stroke="#c0163d" stroke-width="0.8"/>
<line x1="324.80" y1="264.90" x2="324.80" y2="275.90" stroke="#c0163d" stroke-width="0.8"/>
<line x1="323.30" y1="264.90" x2="326.30" y2="264.90" stroke="#c0163d" stroke-width="0.8"/>
<line x1="323.30" y1="275.90" x2="326.30" y2="275.90" stroke="#c0163d" stroke-width="0.8"/>
<line x1="330.20" y1="265.80" x2="330.20" y2="276.80" stroke="#c0163d" stroke-width="0.8"/>
<line x1="328.70" y1="265.80" x2="331.70" y2="265.80" stroke="#c0163d" stroke-width="0.8"/>
<line x1="328.70" y1="276.80" x2="331.70" y2="276.80" stroke="#c0163d" stroke-width="0.8"/>
<line x1="335.40" y1="266.80" x2="335.40" y2="277.80" stroke="#c0163d" stroke-width="0.8"/>
<line x1="333.90" y1="266.80" x2="336.90" y2="266.80" stroke="#c0163d" stroke-width="0.8"/>
<line x1="333.90" y1="277.80" x2="336.90" y2="277.80" stroke="#c0163d" stroke-width="0.8"/>
<line x1="340.80" y1="265.70" x2="340.80" y2="276.70" stroke="#c0163d" stroke-width="0.8"/>
<line x1="339.30" y1="265.70" x2="342.30" y2="265.70" stroke="#c0163d" stroke-width="0.8"/>
<line x1="339.30" y1="276.70" x2="342.30" y2="276.70" stroke="#c0163d" stroke-width="0.8"/>
<line x1="346.30" y1="261.50" x2="346.30" y2="273.50" stroke="#c0163d" stroke-width="0.8"/>
<line x1="344.80" y1="261.50" x2="347.80" y2="261.50" stroke="#c0163d" stroke-width="0.8"/>
<line x1="344.80" y1="273.50" x2="347.80" y2="273.50" stroke="#c0163d" stroke-width="0.8"/>
<line x1="352.10" y1="262.30" x2="352.10" y2="275.30" stroke="#c0163d" stroke-width="0.8"/>
<line x1="350.60" y1="262.30" x2="353.60" y2="262.30" stroke="#c0163d" stroke-width="0.8"/>
<line x1="350.60" y1="275.30" x2="353.60" y2="275.30" stroke="#c0163d" stroke-width="0.8"/>
<line x1="357.50" y1="262.80" x2="357.50" y2="276.80" stroke="#c0163d" stroke-width="0.8"/>
<line x1="356.00" y1="262.80" x2="359.00" y2="262.80" stroke="#c0163d" stroke-width="0.8"/>
<line x1="356.00" y1="276.80" x2="359.00" y2="276.80" stroke="#c0163d" stroke-width="0.8"/>
<line x1="362.90" y1="262.00" x2="362.90" y2="275.00" stroke="#c0163d" stroke-width="0.8"/>
<line x1="361.40" y1="262.00" x2="364.40" y2="262.00" stroke="#c0163d" stroke-width="0.8"/>
<line x1="361.40" y1="275.00" x2="364.40" y2="275.00" stroke="#c0163d" stroke-width="0.8"/>
<line x1="368.50" y1="257.60" x2="368.50" y2="273.60" stroke="#c0163d" stroke-width="0.8"/>
<line x1="367.00" y1="257.60" x2="370.00" y2="257.60" stroke="#c0163d" stroke-width="0.8"/>
<line x1="367.00" y1="273.60" x2="370.00" y2="273.60" stroke="#c0163d" stroke-width="0.8"/>
<line x1="373.80" y1="260.00" x2="373.80" y2="275.00" stroke="#c0163d" stroke-width="0.8"/>
<line x1="372.30" y1="260.00" x2="375.30" y2="260.00" stroke="#c0163d" stroke-width="0.8"/>
<line x1="372.30" y1="275.00" x2="375.30" y2="275.00" stroke="#c0163d" stroke-width="0.8"/>
<line x1="379.00" y1="262.40" x2="379.00" y2="276.40" stroke="#c0163d" stroke-width="0.8"/>
<line x1="377.50" y1="262.40" x2="380.50" y2="262.40" stroke="#c0163d" stroke-width="0.8"/>
<line x1="377.50" y1="276.40" x2="380.50" y2="276.40" stroke="#c0163d" stroke-width="0.8"/>
<circle cx="308.10" cy="274.60" r="2.0" fill="#fff" stroke="#c0163d" stroke-width="0.9"/>
<circle cx="313.70" cy="276.20" r="2.0" fill="#fff" stroke="#c0163d" stroke-width="0.9"/>
<circle cx="319.00" cy="274.20" r="2.0" fill="#fff" stroke="#c0163d" stroke-width="0.9"/>
<circle cx="324.80" cy="270.40" r="2.0" fill="#fff" stroke="#c0163d" stroke-width="0.9"/>
<circle cx="330.20" cy="271.30" r="2.0" fill="#fff" stroke="#c0163d" stroke-width="0.9"/>
<circle cx="335.40" cy="272.30" r="2.0" fill="#fff" stroke="#c0163d" stroke-width="0.9"/>
<circle cx="340.80" cy="271.20" r="2.0" fill="#fff" stroke="#c0163d" stroke-width="0.9"/>
<circle cx="346.30" cy="267.50" r="2.0" fill="#fff" stroke="#c0163d" stroke-width="0.9"/>
<circle cx="352.10" cy="268.80" r="2.0" fill="#fff" stroke="#c0163d" stroke-width="0.9"/>
<circle cx="357.50" cy="269.80" r="2.0" fill="#fff" stroke="#c0163d" stroke-width="0.9"/>
<circle cx="362.90" cy="268.50" r="2.0" fill="#fff" stroke="#c0163d" stroke-width="0.9"/>
<circle cx="368.50" cy="265.60" r="2.0" fill="#fff" stroke="#c0163d" stroke-width="0.9"/>
<circle cx="373.80" cy="267.50" r="2.0" fill="#fff" stroke="#c0163d" stroke-width="0.9"/>
<circle cx="379.00" cy="269.40" r="2.0" fill="#fff" stroke="#c0163d" stroke-width="0.9"/>
<line x1="162.10" y1="370.40" x2="162.10" y2="440.30" stroke="#231f20" stroke-width="1.4"/>
<line x1="161.40" y1="439.60" x2="227.50" y2="439.60" stroke="#231f20" stroke-width="1.4"/>
<line x1="159.30" y1="439.60" x2="162.10" y2="439.60" stroke="#231f20" stroke-width="1.1"/>
<text x="157.70" y="442.30" font-size="9.36" text-anchor="end" fill="#231f20" font-weight="normal" textLength="13.6" lengthAdjust="spacingAndGlyphs" stroke="#231f20" stroke-width="0.16">0.0</text>
<line x1="159.30" y1="420.60" x2="162.10" y2="420.60" stroke="#231f20" stroke-width="1.1"/>
<text x="157.70" y="423.30" font-size="9.36" text-anchor="end" fill="#231f20" font-weight="normal" textLength="13.6" lengthAdjust="spacingAndGlyphs" stroke="#231f20" stroke-width="0.16">0.5</text>
<line x1="159.30" y1="401.40" x2="162.10" y2="401.40" stroke="#231f20" stroke-width="1.1"/>
<text x="157.70" y="404.10" font-size="9.36" text-anchor="end" fill="#231f20" font-weight="normal" textLength="13.6" lengthAdjust="spacingAndGlyphs" stroke="#231f20" stroke-width="0.16">1.0</text>
<line x1="159.30" y1="382.40" x2="162.10" y2="382.40" stroke="#231f20" stroke-width="1.1"/>
<text x="157.70" y="385.10" font-size="9.36" text-anchor="end" fill="#231f20" font-weight="normal" textLength="13.6" lengthAdjust="spacingAndGlyphs" stroke="#231f20" stroke-width="0.16">1.5</text>
<line x1="160.50" y1="372.90" x2="162.10" y2="372.90" stroke="#231f20" stroke-width="0.8"/>
<line x1="160.50" y1="391.90" x2="162.10" y2="391.90" stroke="#231f20" stroke-width="0.8"/>
<line x1="160.50" y1="410.90" x2="162.10" y2="410.90" stroke="#231f20" stroke-width="0.8"/>
<line x1="160.50" y1="430.10" x2="162.10" y2="430.10" stroke="#231f20" stroke-width="0.8"/>
<line x1="174.70" y1="439.60" x2="174.70" y2="442.20" stroke="#231f20" stroke-width="1.0"/>
<line x1="194.50" y1="439.60" x2="194.50" y2="442.20" stroke="#231f20" stroke-width="1.0"/>
<line x1="214.40" y1="439.60" x2="214.40" y2="442.20" stroke="#231f20" stroke-width="1.0"/>
<text x="195.00" y="363.60" font-size="11.52" text-anchor="middle" fill="#231f20" font-weight="normal" textLength="43.2" lengthAdjust="spacingAndGlyphs" stroke="#231f20" stroke-width="0.16">Max OCR</text>
<polygon points="172.50,391.37 175.90,391.37 174.20,394.43" fill="#fff" stroke="#c0163d" stroke-width="0.9" stroke-linejoin="round"/>
<polygon points="170.80,394.27 174.20,394.27 172.50,397.33" fill="#fff" stroke="#c0163d" stroke-width="0.9" stroke-linejoin="round"/>
<polygon points="175.50,396.87 178.90,396.87 177.20,399.93" fill="#fff" stroke="#c0163d" stroke-width="0.9" stroke-linejoin="round"/>
<polygon points="173.40,398.67 176.80,398.67 175.10,401.73" fill="#fff" stroke="#c0163d" stroke-width="0.9" stroke-linejoin="round"/>
<polygon points="169.10,402.07 172.50,402.07 170.80,405.13" fill="#fff" stroke="#c0163d" stroke-width="0.9" stroke-linejoin="round"/>
<polygon points="174.30,404.17 177.70,404.17 176.00,407.23" fill="#fff" stroke="#c0163d" stroke-width="0.9" stroke-linejoin="round"/>
<polygon points="177.70,408.17 181.10,408.17 179.40,411.23" fill="#fff" stroke="#c0163d" stroke-width="0.9" stroke-linejoin="round"/>
<polygon points="171.30,395.97 174.70,395.97 173.00,399.03" fill="#fff" stroke="#c0163d" stroke-width="0.9" stroke-linejoin="round"/>
<line x1="169.00" y1="401.40" x2="181.10" y2="401.40" stroke="#231f20" stroke-width="1.2"/>
<line x1="175.05" y1="399.60" x2="175.05" y2="403.20" stroke="#231f20" stroke-width="0.9"/>
<line x1="171.85" y1="399.60" x2="178.25" y2="399.60" stroke="#231f20" stroke-width="0.9"/>
<line x1="171.85" y1="403.20" x2="178.25" y2="403.20" stroke="#231f20" stroke-width="0.9"/>
<polygon points="192.40,409.07 195.80,409.07 194.10,412.13" fill="#6a86c0" stroke="#3b5a9a" stroke-width="0.9" stroke-linejoin="round"/>
<polygon points="194.10,414.17 197.50,414.17 195.80,417.23" fill="#6a86c0" stroke="#3b5a9a" stroke-width="0.9" stroke-linejoin="round"/>
<polygon points="191.60,417.67 195.00,417.67 193.30,420.73" fill="#6a86c0" stroke="#3b5a9a" stroke-width="0.9" stroke-linejoin="round"/>
<polygon points="189.00,422.87 192.40,422.87 190.70,425.93" fill="#6a86c0" stroke="#3b5a9a" stroke-width="0.9" stroke-linejoin="round"/>
<polygon points="188.10,427.17 191.50,427.17 189.80,430.23" fill="#6a86c0" stroke="#3b5a9a" stroke-width="0.9" stroke-linejoin="round"/>
<polygon points="190.70,429.77 194.10,429.77 192.40,432.83" fill="#6a86c0" stroke="#3b5a9a" stroke-width="0.9" stroke-linejoin="round"/>
<polygon points="194.10,430.67 197.50,430.67 195.80,433.73" fill="#6a86c0" stroke="#3b5a9a" stroke-width="0.9" stroke-linejoin="round"/>
<polygon points="197.60,432.37 201.00,432.37 199.30,435.43" fill="#6a86c0" stroke="#3b5a9a" stroke-width="0.9" stroke-linejoin="round"/>
<polygon points="191.80,426.47 195.20,426.47 193.50,429.53" fill="#6a86c0" stroke="#3b5a9a" stroke-width="0.9" stroke-linejoin="round"/>
<line x1="188.50" y1="427.30" x2="200.30" y2="427.30" stroke="#231f20" stroke-width="1.2"/>
<line x1="194.40" y1="424.40" x2="194.40" y2="430.40" stroke="#231f20" stroke-width="0.9"/>
<line x1="191.20" y1="424.40" x2="197.60" y2="424.40" stroke="#231f20" stroke-width="0.9"/>
<line x1="191.20" y1="430.40" x2="197.60" y2="430.40" stroke="#231f20" stroke-width="0.9"/>
<polygon points="210.60,396.87 214.00,396.87 212.30,399.93" fill="#9fd488" stroke="#5fae3a" stroke-width="0.9" stroke-linejoin="round"/>
<polygon points="214.90,396.87 218.30,396.87 216.60,399.93" fill="#9fd488" stroke="#5fae3a" stroke-width="0.9" stroke-linejoin="round"/>
<polygon points="208.00,406.47 211.40,406.47 209.70,409.53" fill="#9fd488" stroke="#5fae3a" stroke-width="0.9" stroke-linejoin="round"/>
<polygon points="213.20,408.17 216.60,408.17 214.90,411.23" fill="#9fd488" stroke="#5fae3a" stroke-width="0.9" stroke-linejoin="round"/>
<polygon points="217.50,409.87 220.90,409.87 219.20,412.93" fill="#9fd488" stroke="#5fae3a" stroke-width="0.9" stroke-linejoin="round"/>
<polygon points="212.30,416.77 215.70,416.77 214.00,419.83" fill="#9fd488" stroke="#5fae3a" stroke-width="0.9" stroke-linejoin="round"/>
<line x1="208.30" y1="408.30" x2="220.30" y2="408.30" stroke="#231f20" stroke-width="1.2"/>
<line x1="214.30" y1="405.00" x2="214.30" y2="411.40" stroke="#231f20" stroke-width="0.9"/>
<line x1="211.10" y1="405.00" x2="217.50" y2="405.00" stroke="#231f20" stroke-width="0.9"/>
<line x1="211.10" y1="411.40" x2="217.50" y2="411.40" stroke="#231f20" stroke-width="0.9"/>
<line x1="173.40" y1="378.50" x2="195.30" y2="378.50" stroke="#231f20" stroke-width="0.9"/>
<line x1="173.40" y1="386.30" x2="214.90" y2="386.30" stroke="#231f20" stroke-width="0.9"/>
<line x1="179.03" y1="373.90" x2="179.03" y2="376.70" stroke="#231f20" stroke-width="0.85"/>
<line x1="177.81" y1="374.60" x2="180.24" y2="376.00" stroke="#231f20" stroke-width="0.85"/>
<line x1="177.81" y1="376.00" x2="180.24" y2="374.60" stroke="#231f20" stroke-width="0.85"/>
<line x1="182.58" y1="373.90" x2="182.58" y2="376.70" stroke="#231f20" stroke-width="0.85"/>
<line x1="181.36" y1="374.60" x2="183.79" y2="376.00" stroke="#231f20" stroke-width="0.85"/>
<line x1="181.36" y1="376.00" x2="183.79" y2="374.60" stroke="#231f20" stroke-width="0.85"/>
<line x1="186.13" y1="373.90" x2="186.13" y2="376.70" stroke="#231f20" stroke-width="0.85"/>
<line x1="184.91" y1="374.60" x2="187.34" y2="376.00" stroke="#231f20" stroke-width="0.85"/>
<line x1="184.91" y1="376.00" x2="187.34" y2="374.60" stroke="#231f20" stroke-width="0.85"/>
<line x1="189.68" y1="373.90" x2="189.68" y2="376.70" stroke="#231f20" stroke-width="0.85"/>
<line x1="188.46" y1="374.60" x2="190.89" y2="376.00" stroke="#231f20" stroke-width="0.85"/>
<line x1="188.46" y1="376.00" x2="190.89" y2="374.60" stroke="#231f20" stroke-width="0.85"/>
<text x="194.15" y="384.60" font-size="9.6" text-anchor="middle" fill="#231f20" font-weight="normal" textLength="8.8" lengthAdjust="spacingAndGlyphs" stroke="#231f20" stroke-width="0.16">ns</text>
<text x="126.80" y="404.70" font-size="10.56" text-anchor="middle" fill="#231f20" font-weight="normal" textLength="43" lengthAdjust="spacingAndGlyphs" transform="rotate(-90 126.80 404.70)" stroke="#231f20" stroke-width="0.16">FC max OCR</text>
<text x="139.10" y="404.70" font-size="10.56" text-anchor="middle" fill="#231f20" font-weight="normal" textLength="93.5" lengthAdjust="spacingAndGlyphs" transform="rotate(-90 139.10 404.70)" stroke="#231f20" stroke-width="0.16">(vs DMSO IL-12/18+IL-15)</text>
<text x="178.80" y="451.20" font-size="8.6" text-anchor="end" fill="#231f20" font-weight="normal" textLength="24.5" lengthAdjust="spacingAndGlyphs" transform="rotate(-45 178.80 451.20)" stroke="#231f20" stroke-width="0.1">DMSO</text>
<text x="198.00" y="451.20" font-size="8.6" text-anchor="end" fill="#231f20" font-weight="normal" textLength="27" lengthAdjust="spacingAndGlyphs" transform="rotate(-45 198.00 451.20)" stroke="#231f20" stroke-width="0.1">FABP4i</text>
<text x="218.00" y="451.20" font-size="8.6" text-anchor="end" fill="#231f20" font-weight="normal" textLength="29.5" lengthAdjust="spacingAndGlyphs" transform="rotate(-45 218.00 451.20)" stroke="#231f20" stroke-width="0.1">PPAR-γi</text>
<line x1="306.80" y1="370.40" x2="306.80" y2="440.30" stroke="#231f20" stroke-width="1.4"/>
<line x1="306.10" y1="439.60" x2="372.50" y2="439.60" stroke="#231f20" stroke-width="1.4"/>
<line x1="304.00" y1="439.60" x2="306.80" y2="439.60" stroke="#231f20" stroke-width="1.1"/>
<text x="302.40" y="442.30" font-size="9.36" text-anchor="end" fill="#231f20" font-weight="normal" textLength="13.6" lengthAdjust="spacingAndGlyphs" stroke="#231f20" stroke-width="0.16">0.0</text>
<line x1="304.00" y1="420.60" x2="306.80" y2="420.60" stroke="#231f20" stroke-width="1.1"/>
<text x="302.40" y="423.30" font-size="9.36" text-anchor="end" fill="#231f20" font-weight="normal" textLength="13.6" lengthAdjust="spacingAndGlyphs" stroke="#231f20" stroke-width="0.16">0.5</text>
<line x1="304.00" y1="401.40" x2="306.80" y2="401.40" stroke="#231f20" stroke-width="1.1"/>
<text x="302.40" y="404.10" font-size="9.36" text-anchor="end" fill="#231f20" font-weight="normal" textLength="13.6" lengthAdjust="spacingAndGlyphs" stroke="#231f20" stroke-width="0.16">1.0</text>
<line x1="304.00" y1="382.40" x2="306.80" y2="382.40" stroke="#231f20" stroke-width="1.1"/>
<text x="302.40" y="385.10" font-size="9.36" text-anchor="end" fill="#231f20" font-weight="normal" textLength="13.6" lengthAdjust="spacingAndGlyphs" stroke="#231f20" stroke-width="0.16">1.5</text>
<line x1="305.20" y1="372.90" x2="306.80" y2="372.90" stroke="#231f20" stroke-width="0.8"/>
<line x1="305.20" y1="391.90" x2="306.80" y2="391.90" stroke="#231f20" stroke-width="0.8"/>
<line x1="305.20" y1="410.90" x2="306.80" y2="410.90" stroke="#231f20" stroke-width="0.8"/>
<line x1="305.20" y1="430.10" x2="306.80" y2="430.10" stroke="#231f20" stroke-width="0.8"/>
<line x1="319.70" y1="439.60" x2="319.70" y2="442.20" stroke="#231f20" stroke-width="1.0"/>
<line x1="339.50" y1="439.60" x2="339.50" y2="442.20" stroke="#231f20" stroke-width="1.0"/>
<line x1="359.40" y1="439.60" x2="359.40" y2="442.20" stroke="#231f20" stroke-width="1.0"/>
<text x="339.80" y="363.60" font-size="11.52" text-anchor="middle" fill="#231f20" font-weight="normal" textLength="52.2" lengthAdjust="spacingAndGlyphs" stroke="#231f20" stroke-width="0.16">Basal ECAR</text>
<polygon points="313.20,394.87 316.60,394.87 314.90,397.93" fill="#fff" stroke="#c0163d" stroke-width="0.9" stroke-linejoin="round"/>
<polygon points="318.40,394.87 321.80,394.87 320.10,397.93" fill="#fff" stroke="#c0163d" stroke-width="0.9" stroke-linejoin="round"/>
<polygon points="317.50,396.87 320.90,396.87 319.20,399.93" fill="#fff" stroke="#c0163d" stroke-width="0.9" stroke-linejoin="round"/>
<polygon points="322.40,400.07 325.80,400.07 324.10,403.13" fill="#fff" stroke="#c0163d" stroke-width="0.9" stroke-linejoin="round"/>
<polygon points="315.80,403.47 319.20,403.47 317.50,406.53" fill="#fff" stroke="#c0163d" stroke-width="0.9" stroke-linejoin="round"/>
<polygon points="320.10,407.27 323.50,407.27 321.80,410.33" fill="#fff" stroke="#c0163d" stroke-width="0.9" stroke-linejoin="round"/>
<line x1="314.00" y1="401.40" x2="324.40" y2="401.40" stroke="#231f20" stroke-width="1.2"/>
<line x1="319.20" y1="399.80" x2="319.20" y2="403.00" stroke="#231f20" stroke-width="0.9"/>
<line x1="316.00" y1="399.80" x2="322.40" y2="399.80" stroke="#231f20" stroke-width="0.9"/>
<line x1="316.00" y1="403.00" x2="322.40" y2="403.00" stroke="#231f20" stroke-width="0.9"/>
<polygon points="340.00,411.07 343.40,411.07 341.70,414.13" fill="#6a86c0" stroke="#3b5a9a" stroke-width="0.9" stroke-linejoin="round"/>
<polygon points="335.70,414.17 339.10,414.17 337.40,417.23" fill="#6a86c0" stroke="#3b5a9a" stroke-width="0.9" stroke-linejoin="round"/>
<polygon points="342.60,421.17 346.00,421.17 344.30,424.23" fill="#6a86c0" stroke="#3b5a9a" stroke-width="0.9" stroke-linejoin="round"/>
<polygon points="334.80,418.57 338.20,418.57 336.50,421.63" fill="#6a86c0" stroke="#3b5a9a" stroke-width="0.9" stroke-linejoin="round"/>
<polygon points="337.90,431.47 341.30,431.47 339.60,434.53" fill="#6a86c0" stroke="#3b5a9a" stroke-width="0.9" stroke-linejoin="round"/>
<polygon points="338.30,417.47 341.70,417.47 340.00,420.53" fill="#6a86c0" stroke="#3b5a9a" stroke-width="0.9" stroke-linejoin="round"/>
<line x1="334.50" y1="420.90" x2="345.50" y2="420.90" stroke="#231f20" stroke-width="1.2"/>
<line x1="340.00" y1="418.70" x2="340.00" y2="424.40" stroke="#231f20" stroke-width="0.9"/>
<line x1="336.80" y1="418.70" x2="343.20" y2="418.70" stroke="#231f20" stroke-width="0.9"/>
<line x1="336.80" y1="424.40" x2="343.20" y2="424.40" stroke="#231f20" stroke-width="0.9"/>
<polygon points="353.00,397.27 356.40,397.27 354.70,400.33" fill="#9fd488" stroke="#5fae3a" stroke-width="0.9" stroke-linejoin="round"/>
<polygon points="362.50,397.27 365.90,397.27 364.20,400.33" fill="#9fd488" stroke="#5fae3a" stroke-width="0.9" stroke-linejoin="round"/>
<polygon points="357.30,401.27 360.70,401.27 359.00,404.33" fill="#9fd488" stroke="#5fae3a" stroke-width="0.9" stroke-linejoin="round"/>
<polygon points="352.10,408.17 355.50,408.17 353.80,411.23" fill="#9fd488" stroke="#5fae3a" stroke-width="0.9" stroke-linejoin="round"/>
<polygon points="357.30,408.17 360.70,408.17 359.00,411.23" fill="#9fd488" stroke="#5fae3a" stroke-width="0.9" stroke-linejoin="round"/>
<polygon points="362.50,408.17 365.90,408.17 364.20,411.23" fill="#9fd488" stroke="#5fae3a" stroke-width="0.9" stroke-linejoin="round"/>
<line x1="353.40" y1="405.40" x2="365.00" y2="405.40" stroke="#231f20" stroke-width="1.2"/>
<line x1="359.20" y1="403.60" x2="359.20" y2="407.00" stroke="#231f20" stroke-width="0.9"/>
<line x1="356.00" y1="403.60" x2="362.40" y2="403.60" stroke="#231f20" stroke-width="0.9"/>
<line x1="356.00" y1="407.00" x2="362.40" y2="407.00" stroke="#231f20" stroke-width="0.9"/>
<line x1="318.40" y1="378.50" x2="340.30" y2="378.50" stroke="#231f20" stroke-width="0.9"/>
<line x1="318.40" y1="386.30" x2="359.90" y2="386.30" stroke="#231f20" stroke-width="0.9"/>
<line x1="324.03" y1="373.90" x2="324.03" y2="376.70" stroke="#231f20" stroke-width="0.85"/>
<line x1="322.81" y1="374.60" x2="325.24" y2="376.00" stroke="#231f20" stroke-width="0.85"/>
<line x1="322.81" y1="376.00" x2="325.24" y2="374.60" stroke="#231f20" stroke-width="0.85"/>
<line x1="327.58" y1="373.90" x2="327.58" y2="376.70" stroke="#231f20" stroke-width="0.85"/>
<line x1="326.36" y1="374.60" x2="328.79" y2="376.00" stroke="#231f20" stroke-width="0.85"/>
<line x1="326.36" y1="376.00" x2="328.79" y2="374.60" stroke="#231f20" stroke-width="0.85"/>
<line x1="331.13" y1="373.90" x2="331.13" y2="376.70" stroke="#231f20" stroke-width="0.85"/>
<line x1="329.91" y1="374.60" x2="332.34" y2="376.00" stroke="#231f20" stroke-width="0.85"/>
<line x1="329.91" y1="376.00" x2="332.34" y2="374.60" stroke="#231f20" stroke-width="0.85"/>
<line x1="334.68" y1="373.90" x2="334.68" y2="376.70" stroke="#231f20" stroke-width="0.85"/>
<line x1="333.46" y1="374.60" x2="335.89" y2="376.00" stroke="#231f20" stroke-width="0.85"/>
<line x1="333.46" y1="376.00" x2="335.89" y2="374.60" stroke="#231f20" stroke-width="0.85"/>
<text x="339.15" y="384.60" font-size="9.6" text-anchor="middle" fill="#231f20" font-weight="normal" textLength="8.8" lengthAdjust="spacingAndGlyphs" stroke="#231f20" stroke-width="0.16">ns</text>
<text x="270.90" y="404.70" font-size="10.56" text-anchor="middle" fill="#231f20" font-weight="normal" textLength="52" lengthAdjust="spacingAndGlyphs" transform="rotate(-90 270.90 404.70)" stroke="#231f20" stroke-width="0.16">FC basal ECAR</text>
<text x="283.10" y="404.70" font-size="10.56" text-anchor="middle" fill="#231f20" font-weight="normal" textLength="93.5" lengthAdjust="spacingAndGlyphs" transform="rotate(-90 283.10 404.70)" stroke="#231f20" stroke-width="0.16">(vs DMSO IL-12/18+IL-15)</text>
<text x="323.20" y="451.20" font-size="8.6" text-anchor="end" fill="#231f20" font-weight="normal" textLength="24.5" lengthAdjust="spacingAndGlyphs" transform="rotate(-45 323.20 451.20)" stroke="#231f20" stroke-width="0.1">DMSO</text>
<text x="344.60" y="451.20" font-size="8.6" text-anchor="end" fill="#231f20" font-weight="normal" textLength="33.5" lengthAdjust="spacingAndGlyphs" transform="rotate(-45 344.60 451.20)" stroke="#231f20" stroke-width="0.1">FABP4/5i</text>
<text x="363.40" y="451.20" font-size="8.6" text-anchor="end" fill="#231f20" font-weight="normal" textLength="29.5" lengthAdjust="spacingAndGlyphs" transform="rotate(-45 363.40 451.20)" stroke="#231f20" stroke-width="0.1">PPAR-γi</text>
<line x1="44.60" y1="545.20" x2="44.60" y2="615.20" stroke="#231f20" stroke-width="1.4"/>
<line x1="43.90" y1="614.60" x2="125.60" y2="614.60" stroke="#231f20" stroke-width="1.4"/>
<line x1="41.20" y1="547.30" x2="44.60" y2="547.30" stroke="#231f20" stroke-width="1.1"/>
<text x="39.60" y="550.00" font-size="9.36" text-anchor="end" fill="#231f20" font-weight="normal" textLength="4.4" lengthAdjust="spacingAndGlyphs" stroke="#231f20" stroke-width="0.16">3</text>
<line x1="41.20" y1="570.30" x2="44.60" y2="570.30" stroke="#231f20" stroke-width="1.1"/>
<text x="39.60" y="573.00" font-size="9.36" text-anchor="end" fill="#231f20" font-weight="normal" textLength="4.4" lengthAdjust="spacingAndGlyphs" stroke="#231f20" stroke-width="0.16">2</text>
<line x1="41.20" y1="592.40" x2="44.60" y2="592.40" stroke="#231f20" stroke-width="1.1"/>
<text x="39.60" y="595.10" font-size="9.36" text-anchor="end" fill="#231f20" font-weight="normal" textLength="4.4" lengthAdjust="spacingAndGlyphs" stroke="#231f20" stroke-width="0.16">1</text>
<line x1="41.20" y1="614.60" x2="44.60" y2="614.60" stroke="#231f20" stroke-width="1.1"/>
<text x="39.60" y="617.30" font-size="9.36" text-anchor="end" fill="#231f20" font-weight="normal" textLength="4.4" lengthAdjust="spacingAndGlyphs" stroke="#231f20" stroke-width="0.16">0</text>
<line x1="57.30" y1="614.60" x2="57.30" y2="617.20" stroke="#231f20" stroke-width="1.0"/>
<line x1="76.00" y1="614.60" x2="76.00" y2="617.20" stroke="#231f20" stroke-width="1.0"/>
<line x1="95.00" y1="614.60" x2="95.00" y2="617.20" stroke="#231f20" stroke-width="1.0"/>
<line x1="113.50" y1="614.60" x2="113.50" y2="617.20" stroke="#231f20" stroke-width="1.0"/>
<text x="85.50" y="539.40" font-size="11.52" text-anchor="middle" fill="#231f20" font-weight="normal" textLength="41" lengthAdjust="spacingAndGlyphs" stroke="#231f20" stroke-width="0.16">MT Mass</text>
<text x="15.50" y="579.50" font-size="10.56" text-anchor="middle" fill="#231f20" font-weight="normal" textLength="90" lengthAdjust="spacingAndGlyphs" transform="rotate(-90 15.50 579.50)" stroke="#231f20" stroke-width="0.16">FC ΔMFI MT DeepRed FM</text>
<text x="28.10" y="580.10" font-size="10.56" text-anchor="middle" fill="#231f20" font-weight="normal" textLength="38.7" lengthAdjust="spacingAndGlyphs" transform="rotate(-90 28.10 580.10)" stroke="#231f20" stroke-width="0.16">(test-FMO)</text>
<text x="60.50" y="622.60" font-size="10.56" text-anchor="end" fill="#231f20" font-weight="normal" textLength="23.3" lengthAdjust="spacingAndGlyphs" transform="rotate(-90 60.50 622.60)" stroke="#231f20" stroke-width="0.16">DMSO</text>
<text x="79.20" y="621.60" font-size="10.56" text-anchor="end" fill="#231f20" font-weight="normal" textLength="50.6" lengthAdjust="spacingAndGlyphs" transform="rotate(-90 79.20 621.60)" stroke="#231f20" stroke-width="0.16">Rosiglitazone</text>
<text x="98.20" y="622.60" font-size="10.56" text-anchor="end" fill="#231f20" font-weight="normal" textLength="23.3" lengthAdjust="spacingAndGlyphs" transform="rotate(-90 98.20 622.60)" stroke="#231f20" stroke-width="0.16">DMSO</text>
<text x="116.70" y="621.60" font-size="10.56" text-anchor="end" fill="#231f20" font-weight="normal" textLength="50.6" lengthAdjust="spacingAndGlyphs" transform="rotate(-90 116.70 621.60)" stroke="#231f20" stroke-width="0.16">Rosiglitazone</text>
<polyline points="53.20,675.80 53.20,678.20 79.20,678.20 79.20,675.80" fill="none" stroke="#231f20" stroke-width="0.9" stroke-linejoin="round"/>
<text x="66.20" y="689.20" font-size="10.08" text-anchor="middle" fill="#231f20" font-weight="normal" textLength="28" lengthAdjust="spacingAndGlyphs" stroke="#231f20" stroke-width="0.16">Healthy</text>
<polyline points="90.90,675.80 90.90,678.20 117.40,678.20 117.40,675.80" fill="none" stroke="#231f20" stroke-width="0.9" stroke-linejoin="round"/>
<text x="104.15" y="689.20" font-size="10.08" text-anchor="middle" fill="#231f20" font-weight="normal" textLength="26.5" lengthAdjust="spacingAndGlyphs" stroke="#231f20" stroke-width="0.16">Eμ-myc</text>
<line x1="55.00" y1="592.30" x2="64.50" y2="592.30" stroke="#231f20" stroke-width="1.2"/>
<line x1="59.75" y1="591.20" x2="59.75" y2="593.40" stroke="#231f20" stroke-width="0.9"/>
<line x1="56.75" y1="591.20" x2="62.75" y2="591.20" stroke="#231f20" stroke-width="0.9"/>
<line x1="56.75" y1="593.40" x2="62.75" y2="593.40" stroke="#231f20" stroke-width="0.9"/>
<circle cx="57.30" cy="586.40" r="1.65" fill="#fff" stroke="#c0163d" stroke-width="0.75"/>
<circle cx="54.70" cy="589.30" r="1.65" fill="#fff" stroke="#c0163d" stroke-width="0.75"/>
<circle cx="59.00" cy="590.20" r="1.65" fill="#fff" stroke="#c0163d" stroke-width="0.75"/>
<circle cx="52.10" cy="592.40" r="1.65" fill="#fff" stroke="#c0163d" stroke-width="0.75"/>
<circle cx="56.40" cy="592.80" r="1.65" fill="#fff" stroke="#c0163d" stroke-width="0.75"/>
<circle cx="61.60" cy="592.80" r="1.65" fill="#fff" stroke="#c0163d" stroke-width="0.75"/>
<circle cx="54.70" cy="595.40" r="1.65" fill="#fff" stroke="#c0163d" stroke-width="0.75"/>
<circle cx="59.00" cy="595.40" r="1.65" fill="#fff" stroke="#c0163d" stroke-width="0.75"/>
<circle cx="62.50" cy="597.10" r="1.65" fill="#fff" stroke="#c0163d" stroke-width="0.75"/>
<line x1="71.50" y1="595.00" x2="80.50" y2="595.00" stroke="#231f20" stroke-width="1.2"/>
<line x1="76.00" y1="593.50" x2="76.00" y2="597.00" stroke="#231f20" stroke-width="0.9"/>
<line x1="73.00" y1="593.50" x2="79.00" y2="593.50" stroke="#231f20" stroke-width="0.9"/>
<line x1="73.00" y1="597.00" x2="79.00" y2="597.00" stroke="#231f20" stroke-width="0.9"/>
<polygon points="72.25,588.90 75.15,588.90 73.70,591.50" fill="#3b5a9a" stroke="#3b5a9a" stroke-width="0.8" stroke-linejoin="round"/>
<polygon points="76.65,586.80 79.55,586.80 78.10,589.40" fill="#3b5a9a" stroke="#3b5a9a" stroke-width="0.8" stroke-linejoin="round"/>
<polygon points="71.45,592.30 74.35,592.30 72.90,594.90" fill="#3b5a9a" stroke="#3b5a9a" stroke-width="0.8" stroke-linejoin="round"/>
<polygon points="79.25,594.90 82.15,594.90 80.70,597.50" fill="#3b5a9a" stroke="#3b5a9a" stroke-width="0.8" stroke-linejoin="round"/>
<polygon points="74.85,601.80 77.75,601.80 76.30,604.40" fill="#3b5a9a" stroke="#3b5a9a" stroke-width="0.8" stroke-linejoin="round"/>
<polygon points="74.05,590.70 76.95,590.70 75.50,593.30" fill="#3b5a9a" stroke="#3b5a9a" stroke-width="0.8" stroke-linejoin="round"/>
<circle cx="95.00" cy="587.60" r="1.75" fill="#b0002e" stroke="#b0002e" stroke-width="0.5"/>
<circle cx="90.20" cy="593.60" r="1.75" fill="#b0002e" stroke="#b0002e" stroke-width="0.5"/>
<circle cx="92.80" cy="591.90" r="1.75" fill="#b0002e" stroke="#b0002e" stroke-width="0.5"/>
<circle cx="98.00" cy="591.00" r="1.75" fill="#b0002e" stroke="#b0002e" stroke-width="0.5"/>
<circle cx="99.70" cy="596.20" r="1.75" fill="#b0002e" stroke="#b0002e" stroke-width="0.5"/>
<circle cx="95.50" cy="594.50" r="1.75" fill="#b0002e" stroke="#b0002e" stroke-width="0.5"/>
<circle cx="94.50" cy="607.50" r="1.75" fill="#b0002e" stroke="#b0002e" stroke-width="0.5"/>
<circle cx="91.00" cy="595.00" r="1.75" fill="#b0002e" stroke="#b0002e" stroke-width="0.5"/>
<line x1="89.50" y1="595.00" x2="100.50" y2="595.00" stroke="#231f20" stroke-width="1.2"/>
<line x1="95.00" y1="594.00" x2="95.00" y2="596.20" stroke="#231f20" stroke-width="0.9"/>
<line x1="92.00" y1="594.00" x2="98.00" y2="594.00" stroke="#231f20" stroke-width="0.9"/>
<line x1="92.00" y1="596.20" x2="98.00" y2="596.20" stroke="#231f20" stroke-width="0.9"/>
<polygon points="111.25,553.90 114.15,553.90 112.70,556.50" fill="#3b5a9a" stroke="#3b5a9a" stroke-width="0.8" stroke-linejoin="round"/>
<polygon points="112.95,557.70 115.85,557.70 114.40,560.30" fill="#3b5a9a" stroke="#3b5a9a" stroke-width="0.8" stroke-linejoin="round"/>
<polygon points="109.45,591.50 112.35,591.50 110.90,594.10" fill="#3b5a9a" stroke="#3b5a9a" stroke-width="0.8" stroke-linejoin="round"/>
<polygon points="114.65,590.60 117.55,590.60 116.10,593.20" fill="#3b5a9a" stroke="#3b5a9a" stroke-width="0.8" stroke-linejoin="round"/>
<polygon points="111.25,594.10 114.15,594.10 112.70,596.70" fill="#3b5a9a" stroke="#3b5a9a" stroke-width="0.8" stroke-linejoin="round"/>
<polygon points="112.05,597.50 114.95,597.50 113.50,600.10" fill="#3b5a9a" stroke="#3b5a9a" stroke-width="0.8" stroke-linejoin="round"/>
<polygon points="112.05,607.00 114.95,607.00 113.50,609.60" fill="#3b5a9a" stroke="#3b5a9a" stroke-width="0.8" stroke-linejoin="round"/>
<polygon points="108.05,594.10 110.95,594.10 109.50,596.70" fill="#3b5a9a" stroke="#3b5a9a" stroke-width="0.8" stroke-linejoin="round"/>
<line x1="106.60" y1="589.30" x2="119.60" y2="589.30" stroke="#231f20" stroke-width="1.2"/>
<line x1="113.10" y1="584.60" x2="113.10" y2="594.00" stroke="#231f20" stroke-width="0.9"/>
<line x1="110.10" y1="584.60" x2="116.10" y2="584.60" stroke="#231f20" stroke-width="0.9"/>
<line x1="110.10" y1="594.00" x2="116.10" y2="594.00" stroke="#231f20" stroke-width="0.9"/>
<line x1="58.20" y1="581.50" x2="75.80" y2="581.50" stroke="#231f20" stroke-width="0.9"/>
<text x="67.00" y="579.50" font-size="9.6" text-anchor="middle" fill="#231f20" font-weight="normal" textLength="8.5" lengthAdjust="spacingAndGlyphs" stroke="#231f20" stroke-width="0.16">ns</text>
<line x1="96.20" y1="549.00" x2="113.50" y2="549.00" stroke="#231f20" stroke-width="0.9"/>
<text x="104.85" y="547.00" font-size="9.6" text-anchor="middle" fill="#231f20" font-weight="normal" textLength="8.5" lengthAdjust="spacingAndGlyphs" stroke="#231f20" stroke-width="0.16">ns</text>
<line x1="180.20" y1="545.20" x2="180.20" y2="615.20" stroke="#231f20" stroke-width="1.4"/>
<line x1="179.50" y1="614.60" x2="261.50" y2="614.60" stroke="#231f20" stroke-width="1.4"/>
<line x1="176.80" y1="614.60" x2="180.20" y2="614.60" stroke="#231f20" stroke-width="1.1"/>
<text x="175.20" y="617.30" font-size="9.36" text-anchor="end" fill="#231f20" font-weight="normal" textLength="11.55" lengthAdjust="spacingAndGlyphs" stroke="#231f20" stroke-width="0.16">0.0</text>
<line x1="176.80" y1="598.00" x2="180.20" y2="598.00" stroke="#231f20" stroke-width="1.1"/>
<text x="175.20" y="600.70" font-size="9.36" text-anchor="end" fill="#231f20" font-weight="normal" textLength="11.55" lengthAdjust="spacingAndGlyphs" stroke="#231f20" stroke-width="0.16">0.5</text>
<line x1="176.80" y1="581.20" x2="180.20" y2="581.20" stroke="#231f20" stroke-width="1.1"/>
<text x="175.20" y="583.90" font-size="9.36" text-anchor="end" fill="#231f20" font-weight="normal" textLength="11.55" lengthAdjust="spacingAndGlyphs" stroke="#231f20" stroke-width="0.16">1.0</text>
<line x1="176.80" y1="564.60" x2="180.20" y2="564.60" stroke="#231f20" stroke-width="1.1"/>
<text x="175.20" y="567.30" font-size="9.36" text-anchor="end" fill="#231f20" font-weight="normal" textLength="11.55" lengthAdjust="spacingAndGlyphs" stroke="#231f20" stroke-width="0.16">1.5</text>
<line x1="176.80" y1="547.80" x2="180.20" y2="547.80" stroke="#231f20" stroke-width="1.1"/>
<text x="175.20" y="550.50" font-size="9.36" text-anchor="end" fill="#231f20" font-weight="normal" textLength="11.55" lengthAdjust="spacingAndGlyphs" stroke="#231f20" stroke-width="0.16">2.0</text>
<line x1="193.20" y1="614.60" x2="193.20" y2="617.20" stroke="#231f20" stroke-width="1.0"/>
<line x1="211.30" y1="614.60" x2="211.30" y2="617.20" stroke="#231f20" stroke-width="1.0"/>
<line x1="230.40" y1="614.60" x2="230.40" y2="617.20" stroke="#231f20" stroke-width="1.0"/>
<line x1="249.00" y1="614.60" x2="249.00" y2="617.20" stroke="#231f20" stroke-width="1.0"/>
<text x="221.10" y="539.40" font-size="11.52" text-anchor="middle" fill="#231f20" font-weight="normal" textLength="21" lengthAdjust="spacingAndGlyphs" stroke="#231f20" stroke-width="0.16">MT ψ</text>
<text x="143.80" y="579.80" font-size="10.56" text-anchor="middle" fill="#231f20" font-weight="normal" textLength="89.6" lengthAdjust="spacingAndGlyphs" transform="rotate(-90 143.80 579.80)" stroke="#231f20" stroke-width="0.16">FC ΔMFI MT RedCMXROS</text>
<text x="155.10" y="580.50" font-size="10.56" text-anchor="middle" fill="#231f20" font-weight="normal" textLength="38" lengthAdjust="spacingAndGlyphs" transform="rotate(-90 155.10 580.50)" stroke="#231f20" stroke-width="0.16">(test-FMO)</text>
<text x="196.40" y="622.60" font-size="10.56" text-anchor="end" fill="#231f20" font-weight="normal" textLength="23.3" lengthAdjust="spacingAndGlyphs" transform="rotate(-90 196.40 622.60)" stroke="#231f20" stroke-width="0.16">DMSO</text>
<text x="214.50" y="621.60" font-size="10.56" text-anchor="end" fill="#231f20" font-weight="normal" textLength="50.6" lengthAdjust="spacingAndGlyphs" transform="rotate(-90 214.50 621.60)" stroke="#231f20" stroke-width="0.16">Rosiglitazone</text>
<text x="233.60" y="622.60" font-size="10.56" text-anchor="end" fill="#231f20" font-weight="normal" textLength="23.3" lengthAdjust="spacingAndGlyphs" transform="rotate(-90 233.60 622.60)" stroke="#231f20" stroke-width="0.16">DMSO</text>
<text x="252.20" y="621.60" font-size="10.56" text-anchor="end" fill="#231f20" font-weight="normal" textLength="50.6" lengthAdjust="spacingAndGlyphs" transform="rotate(-90 252.20 621.60)" stroke="#231f20" stroke-width="0.16">Rosiglitazone</text>
<polyline points="188.60,675.80 188.60,678.20 215.90,678.20 215.90,675.80" fill="none" stroke="#231f20" stroke-width="0.9" stroke-linejoin="round"/>
<text x="202.25" y="689.20" font-size="10.08" text-anchor="middle" fill="#231f20" font-weight="normal" textLength="28" lengthAdjust="spacingAndGlyphs" stroke="#231f20" stroke-width="0.16">Healthy</text>
<polyline points="226.30,675.80 226.30,678.20 252.80,678.20 252.80,675.80" fill="none" stroke="#231f20" stroke-width="0.9" stroke-linejoin="round"/>
<text x="239.55" y="689.20" font-size="10.08" text-anchor="middle" fill="#231f20" font-weight="normal" textLength="26.5" lengthAdjust="spacingAndGlyphs" stroke="#231f20" stroke-width="0.16">Eμ-myc</text>
<circle cx="191.40" cy="562.50" r="1.65" fill="#fff" stroke="#c0163d" stroke-width="0.75"/>
<circle cx="194.90" cy="565.10" r="1.65" fill="#fff" stroke="#c0163d" stroke-width="0.75"/>
<circle cx="197.50" cy="582.40" r="1.65" fill="#fff" stroke="#c0163d" stroke-width="0.75"/>
<circle cx="188.80" cy="585.80" r="1.65" fill="#fff" stroke="#c0163d" stroke-width="0.75"/>
<circle cx="193.20" cy="586.40" r="1.65" fill="#fff" stroke="#c0163d" stroke-width="0.75"/>
<circle cx="195.40" cy="585.30" r="1.65" fill="#fff" stroke="#c0163d" stroke-width="0.75"/>
<circle cx="189.70" cy="588.40" r="1.65" fill="#fff" stroke="#c0163d" stroke-width="0.75"/>
<circle cx="192.30" cy="588.40" r="1.65" fill="#fff" stroke="#c0163d" stroke-width="0.75"/>
<circle cx="195.80" cy="591.00" r="1.65" fill="#fff" stroke="#c0163d" stroke-width="0.75"/>
<line x1="187.10" y1="581.20" x2="196.60" y2="581.20" stroke="#231f20" stroke-width="1.2"/>
<line x1="191.85" y1="578.40" x2="191.85" y2="584.00" stroke="#231f20" stroke-width="0.9"/>
<line x1="188.85" y1="578.40" x2="194.85" y2="578.40" stroke="#231f20" stroke-width="0.9"/>
<line x1="188.85" y1="584.00" x2="194.85" y2="584.00" stroke="#231f20" stroke-width="0.9"/>
<polygon points="209.85,581.60 212.75,581.60 211.30,584.20" fill="#3b5a9a" stroke="#3b5a9a" stroke-width="0.8" stroke-linejoin="round"/>
<polygon points="206.45,587.10 209.35,587.10 207.90,589.70" fill="#3b5a9a" stroke="#3b5a9a" stroke-width="0.8" stroke-linejoin="round"/>
<polygon points="210.75,587.10 213.65,587.10 212.20,589.70" fill="#3b5a9a" stroke="#3b5a9a" stroke-width="0.8" stroke-linejoin="round"/>
<polygon points="214.25,589.70 217.15,589.70 215.70,592.30" fill="#3b5a9a" stroke="#3b5a9a" stroke-width="0.8" stroke-linejoin="round"/>
<polygon points="208.15,594.90 211.05,594.90 209.60,597.50" fill="#3b5a9a" stroke="#3b5a9a" stroke-width="0.8" stroke-linejoin="round"/>
<polygon points="212.45,594.90 215.35,594.90 213.90,597.50" fill="#3b5a9a" stroke="#3b5a9a" stroke-width="0.8" stroke-linejoin="round"/>
<line x1="206.10" y1="591.00" x2="217.40" y2="591.00" stroke="#231f20" stroke-width="1.2"/>
<line x1="211.75" y1="589.00" x2="211.75" y2="593.00" stroke="#231f20" stroke-width="0.9"/>
<line x1="208.75" y1="589.00" x2="214.75" y2="589.00" stroke="#231f20" stroke-width="0.9"/>
<line x1="208.75" y1="593.00" x2="214.75" y2="593.00" stroke="#231f20" stroke-width="0.9"/>
<circle cx="230.40" cy="591.90" r="1.75" fill="#b0002e" stroke="#b0002e" stroke-width="0.5"/>
<circle cx="234.70" cy="594.50" r="1.75" fill="#b0002e" stroke="#b0002e" stroke-width="0.5"/>
<circle cx="226.00" cy="598.00" r="1.75" fill="#b0002e" stroke="#b0002e" stroke-width="0.5"/>
<circle cx="230.00" cy="596.00" r="1.75" fill="#b0002e" stroke="#b0002e" stroke-width="0.5"/>
<circle cx="226.90" cy="601.40" r="1.75" fill="#b0002e" stroke="#b0002e" stroke-width="0.5"/>
<circle cx="232.10" cy="603.10" r="1.75" fill="#b0002e" stroke="#b0002e" stroke-width="0.5"/>
<circle cx="233.80" cy="605.40" r="1.75" fill="#b0002e" stroke="#b0002e" stroke-width="0.5"/>
<circle cx="230.40" cy="611.80" r="1.75" fill="#b0002e" stroke="#b0002e" stroke-width="0.5"/>
<line x1="225.20" y1="599.70" x2="236.40" y2="599.70" stroke="#231f20" stroke-width="1.2"/>
<line x1="230.80" y1="597.50" x2="230.80" y2="602.00" stroke="#231f20" stroke-width="0.9"/>
<line x1="227.80" y1="597.50" x2="233.80" y2="597.50" stroke="#231f20" stroke-width="0.9"/>
<line x1="227.80" y1="602.00" x2="233.80" y2="602.00" stroke="#231f20" stroke-width="0.9"/>
<polygon points="245.35,575.90 248.25,575.90 246.80,578.50" fill="#3b5a9a" stroke="#3b5a9a" stroke-width="0.8" stroke-linejoin="round"/>
<polygon points="249.65,575.90 252.55,575.90 251.10,578.50" fill="#3b5a9a" stroke="#3b5a9a" stroke-width="0.8" stroke-linejoin="round"/>
<polygon points="247.55,581.60 250.45,581.60 249.00,584.20" fill="#3b5a9a" stroke="#3b5a9a" stroke-width="0.8" stroke-linejoin="round"/>
<polygon points="244.45,587.10 247.35,587.10 245.90,589.70" fill="#3b5a9a" stroke="#3b5a9a" stroke-width="0.8" stroke-linejoin="round"/>
<polygon points="252.25,588.90 255.15,588.90 253.70,591.50" fill="#3b5a9a" stroke="#3b5a9a" stroke-width="0.8" stroke-linejoin="round"/>
<polygon points="242.75,590.60 245.65,590.60 244.20,593.20" fill="#3b5a9a" stroke="#3b5a9a" stroke-width="0.8" stroke-linejoin="round"/>
<polygon points="248.05,591.70 250.95,591.70 249.50,594.30" fill="#3b5a9a" stroke="#3b5a9a" stroke-width="0.8" stroke-linejoin="round"/>
<polygon points="251.45,594.90 254.35,594.90 252.90,597.50" fill="#3b5a9a" stroke="#3b5a9a" stroke-width="0.8" stroke-linejoin="round"/>
<polygon points="246.55,594.90 249.45,594.90 248.00,597.50" fill="#3b5a9a" stroke="#3b5a9a" stroke-width="0.8" stroke-linejoin="round"/>
<polygon points="243.05,594.90 245.95,594.90 244.50,597.50" fill="#3b5a9a" stroke="#3b5a9a" stroke-width="0.8" stroke-linejoin="round"/>
<polygon points="247.55,604.40 250.45,604.40 249.00,607.00" fill="#3b5a9a" stroke="#3b5a9a" stroke-width="0.8" stroke-linejoin="round"/>
<line x1="244.20" y1="591.00" x2="254.60" y2="591.00" stroke="#231f20" stroke-width="1.2"/>
<line x1="249.40" y1="588.50" x2="249.40" y2="593.50" stroke="#231f20" stroke-width="0.9"/>
<line x1="246.40" y1="588.50" x2="252.40" y2="588.50" stroke="#231f20" stroke-width="0.9"/>
<line x1="246.40" y1="593.50" x2="252.40" y2="593.50" stroke="#231f20" stroke-width="0.9"/>
<line x1="193.20" y1="557.60" x2="211.70" y2="557.60" stroke="#231f20" stroke-width="0.9"/>
<line x1="202.45" y1="551.60" x2="202.45" y2="554.40" stroke="#231f20" stroke-width="0.9"/>
<line x1="201.24" y1="552.30" x2="203.66" y2="553.70" stroke="#231f20" stroke-width="0.9"/>
<line x1="201.24" y1="553.70" x2="203.66" y2="552.30" stroke="#231f20" stroke-width="0.9"/>
<line x1="231.20" y1="570.30" x2="249.00" y2="570.30" stroke="#231f20" stroke-width="0.9"/>
<line x1="240.10" y1="564.30" x2="240.10" y2="567.10" stroke="#231f20" stroke-width="0.9"/>
<line x1="238.89" y1="565.00" x2="241.31" y2="566.40" stroke="#231f20" stroke-width="0.9"/>
<line x1="238.89" y1="566.40" x2="241.31" y2="565.00" stroke="#231f20" stroke-width="0.9"/>
<line x1="316.20" y1="545.20" x2="316.20" y2="615.20" stroke="#231f20" stroke-width="1.4"/>
<line x1="315.50" y1="614.60" x2="387.00" y2="614.60" stroke="#231f20" stroke-width="1.4"/>
<line x1="312.80" y1="614.60" x2="316.20" y2="614.60" stroke="#231f20" stroke-width="1.1"/>
<text x="311.20" y="617.30" font-size="9.36" text-anchor="end" fill="#231f20" font-weight="normal" textLength="13.200000000000001" lengthAdjust="spacingAndGlyphs" stroke="#231f20" stroke-width="0.16">0.0</text>
<line x1="312.80" y1="592.40" x2="316.20" y2="592.40" stroke="#231f20" stroke-width="1.1"/>
<text x="311.20" y="595.10" font-size="9.36" text-anchor="end" fill="#231f20" font-weight="normal" textLength="13.200000000000001" lengthAdjust="spacingAndGlyphs" stroke="#231f20" stroke-width="0.16">0.5</text>
<line x1="312.80" y1="570.30" x2="316.20" y2="570.30" stroke="#231f20" stroke-width="1.1"/>
<text x="311.20" y="573.00" font-size="9.36" text-anchor="end" fill="#231f20" font-weight="normal" textLength="13.200000000000001" lengthAdjust="spacingAndGlyphs" stroke="#231f20" stroke-width="0.16">1.0</text>
<line x1="312.80" y1="547.30" x2="316.20" y2="547.30" stroke="#231f20" stroke-width="1.1"/>
<text x="311.20" y="550.00" font-size="9.36" text-anchor="end" fill="#231f20" font-weight="normal" textLength="13.200000000000001" lengthAdjust="spacingAndGlyphs" stroke="#231f20" stroke-width="0.16">1.5</text>
<line x1="327.00" y1="614.60" x2="327.00" y2="617.20" stroke="#231f20" stroke-width="1.0"/>
<line x1="343.40" y1="614.60" x2="343.40" y2="617.20" stroke="#231f20" stroke-width="1.0"/>
<line x1="359.80" y1="614.60" x2="359.80" y2="617.20" stroke="#231f20" stroke-width="1.0"/>
<line x1="376.30" y1="614.60" x2="376.30" y2="617.20" stroke="#231f20" stroke-width="1.0"/>
<text x="351.50" y="539.40" font-size="11.52" text-anchor="middle" fill="#231f20" font-weight="normal" textLength="44" lengthAdjust="spacingAndGlyphs" stroke="#231f20" stroke-width="0.16">% IFN- γ+</text>
<text x="280.40" y="579.80" font-size="10.56" text-anchor="middle" fill="#231f20" font-weight="normal" textLength="56.6" lengthAdjust="spacingAndGlyphs" transform="rotate(-90 280.40 579.80)" stroke="#231f20" stroke-width="0.16">FC % IFN-γ+ NK</text>
<text x="291.00" y="579.50" font-size="10.56" text-anchor="middle" fill="#231f20" font-weight="normal" textLength="74.5" lengthAdjust="spacingAndGlyphs" transform="rotate(-90 291.00 579.50)" stroke="#231f20" stroke-width="0.16">(vs healthy + DMSO)</text>
<text x="330.20" y="622.60" font-size="10.56" text-anchor="end" fill="#231f20" font-weight="normal" textLength="23.3" lengthAdjust="spacingAndGlyphs" transform="rotate(-90 330.20 622.60)" stroke="#231f20" stroke-width="0.16">DMSO</text>
<text x="346.60" y="621.60" font-size="10.56" text-anchor="end" fill="#231f20" font-weight="normal" textLength="50.6" lengthAdjust="spacingAndGlyphs" transform="rotate(-90 346.60 621.60)" stroke="#231f20" stroke-width="0.16">Rosiglitazone</text>
<text x="363.00" y="622.60" font-size="10.56" text-anchor="end" fill="#231f20" font-weight="normal" textLength="23.3" lengthAdjust="spacingAndGlyphs" transform="rotate(-90 363.00 622.60)" stroke="#231f20" stroke-width="0.16">DMSO</text>
<text x="379.50" y="621.60" font-size="10.56" text-anchor="end" fill="#231f20" font-weight="normal" textLength="50.6" lengthAdjust="spacingAndGlyphs" transform="rotate(-90 379.50 621.60)" stroke="#231f20" stroke-width="0.16">Rosiglitazone</text>
<polyline points="322.30,675.80 322.30,678.20 348.30,678.20 348.30,675.80" fill="none" stroke="#231f20" stroke-width="0.9" stroke-linejoin="round"/>
<text x="335.30" y="689.20" font-size="10.08" text-anchor="middle" fill="#231f20" font-weight="normal" textLength="28" lengthAdjust="spacingAndGlyphs" stroke="#231f20" stroke-width="0.16">Healthy</text>
<polyline points="354.80,675.80 354.80,678.20 381.30,678.20 381.30,675.80" fill="none" stroke="#231f20" stroke-width="0.9" stroke-linejoin="round"/>
<text x="368.05" y="689.20" font-size="10.08" text-anchor="middle" fill="#231f20" font-weight="normal" textLength="26.5" lengthAdjust="spacingAndGlyphs" stroke="#231f20" stroke-width="0.16">Eμ-myc</text>
<rect x="321.80" y="570.30" width="10.30" height="44.30" fill="#d9968b" stroke="none" stroke-width="1"/>
<rect x="338.50" y="570.30" width="9.90" height="44.30" fill="#a2a7cd" stroke="none" stroke-width="1"/>
<rect x="354.60" y="582.90" width="10.40" height="31.70" fill="#b5333c" stroke="none" stroke-width="1"/>
<rect x="370.90" y="581.20" width="10.00" height="33.40" fill="#3d5a98" stroke="none" stroke-width="1"/>
<circle cx="323.80" cy="569.10" r="1.7" fill="#fff" stroke="#c0163d" stroke-width="0.8"/>
<circle cx="326.40" cy="567.30" r="1.7" fill="#fff" stroke="#c0163d" stroke-width="0.8"/>
<circle cx="328.70" cy="568.50" r="1.7" fill="#fff" stroke="#c0163d" stroke-width="0.8"/>
<circle cx="330.80" cy="569.80" r="1.7" fill="#fff" stroke="#c0163d" stroke-width="0.8"/>
<circle cx="325.20" cy="571.10" r="1.7" fill="#fff" stroke="#c0163d" stroke-width="0.8"/>
<circle cx="328.20" cy="572.00" r="1.7" fill="#fff" stroke="#c0163d" stroke-width="0.8"/>
<circle cx="330.40" cy="574.60" r="1.7" fill="#fff" stroke="#c0163d" stroke-width="0.8"/>
<circle cx="323.00" cy="570.30" r="1.7" fill="#fff" stroke="#c0163d" stroke-width="0.8"/>
<polygon points="339.00,568.10 341.00,568.10 340.00,569.90" fill="#a2a7cd" stroke="#3d5a98" stroke-width="0.6" stroke-linejoin="round"/>
<polygon points="341.50,569.10 343.50,569.10 342.50,570.90" fill="#a2a7cd" stroke="#3d5a98" stroke-width="0.6" stroke-linejoin="round"/>
<polygon points="344.00,568.60 346.00,568.60 345.00,570.40" fill="#a2a7cd" stroke="#3d5a98" stroke-width="0.6" stroke-linejoin="round"/>
<polygon points="346.00,569.60 348.00,569.60 347.00,571.40" fill="#a2a7cd" stroke="#3d5a98" stroke-width="0.6" stroke-linejoin="round"/>
<polygon points="342.50,570.60 344.50,570.60 343.50,572.40" fill="#a2a7cd" stroke="#3d5a98" stroke-width="0.6" stroke-linejoin="round"/>
<polygon points="340.00,570.10 342.00,570.10 341.00,571.90" fill="#a2a7cd" stroke="#3d5a98" stroke-width="0.6" stroke-linejoin="round"/>
<line x1="359.80" y1="580.00" x2="359.80" y2="582.90" stroke="#231f20" stroke-width="0.9"/>
<line x1="357.60" y1="580.00" x2="362.00" y2="580.00" stroke="#231f20" stroke-width="0.9"/>
<circle cx="355.90" cy="578.60" r="1.6" fill="#fff" stroke="#c0163d" stroke-width="0.75"/>
<circle cx="357.90" cy="576.40" r="1.6" fill="#fff" stroke="#c0163d" stroke-width="0.75"/>
<circle cx="360.30" cy="575.10" r="1.6" fill="#fff" stroke="#c0163d" stroke-width="0.75"/>
<circle cx="362.40" cy="575.40" r="1.6" fill="#fff" stroke="#c0163d" stroke-width="0.75"/>
<circle cx="363.60" cy="578.00" r="1.6" fill="#fff" stroke="#c0163d" stroke-width="0.75"/>
<circle cx="361.00" cy="578.20" r="1.6" fill="#fff" stroke="#c0163d" stroke-width="0.75"/>
<circle cx="358.20" cy="584.60" r="1.2" fill="#fff" stroke="#f0c8cc" stroke-width="0.3"/>
<circle cx="360.80" cy="586.60" r="1.2" fill="#fff" stroke="#f0c8cc" stroke-width="0.3"/>
<circle cx="361.20" cy="589.20" r="1.2" fill="#fff" stroke="#f0c8cc" stroke-width="0.3"/>
<circle cx="358.80" cy="592.70" r="1.2" fill="#fff" stroke="#f0c8cc" stroke-width="0.3"/>
<circle cx="360.20" cy="595.10" r="1.2" fill="#fff" stroke="#f0c8cc" stroke-width="0.3"/>
<polygon points="371.15,573.37 373.45,573.37 372.30,575.43" fill="#fff" stroke="#3d5a98" stroke-width="0.8" stroke-linejoin="round"/>
<polygon points="373.65,574.57 375.95,574.57 374.80,576.63" fill="#fff" stroke="#3d5a98" stroke-width="0.8" stroke-linejoin="round"/>
<polygon points="376.45,574.37 378.75,574.37 377.60,576.43" fill="#fff" stroke="#3d5a98" stroke-width="0.8" stroke-linejoin="round"/>
<polygon points="378.15,576.17 380.45,576.17 379.30,578.24" fill="#fff" stroke="#3d5a98" stroke-width="0.8" stroke-linejoin="round"/>
<polygon points="374.05,577.17 376.35,577.17 375.20,579.24" fill="#fff" stroke="#3d5a98" stroke-width="0.8" stroke-linejoin="round"/>
<polygon points="372.45,578.57 374.75,578.57 373.60,580.63" fill="#fff" stroke="#3d5a98" stroke-width="0.8" stroke-linejoin="round"/>
<polygon points="376.75,578.37 379.05,578.37 377.90,580.43" fill="#fff" stroke="#3d5a98" stroke-width="0.8" stroke-linejoin="round"/>
<polygon points="374.50,581.99 376.30,581.99 375.40,583.61" fill="#3d5a98" stroke="#9fb0d8" stroke-width="0.5" stroke-linejoin="round"/>
<polygon points="376.10,583.99 377.90,583.99 377.00,585.61" fill="#3d5a98" stroke="#9fb0d8" stroke-width="0.5" stroke-linejoin="round"/>
<polygon points="374.40,588.79 376.20,588.79 375.30,590.41" fill="#3d5a98" stroke="#9fb0d8" stroke-width="0.5" stroke-linejoin="round"/>
<polygon points="375.70,592.39 377.50,592.39 376.60,594.01" fill="#3d5a98" stroke="#9fb0d8" stroke-width="0.5" stroke-linejoin="round"/>
<line x1="326.40" y1="563.00" x2="343.70" y2="563.00" stroke="#231f20" stroke-width="0.9"/>
<text x="335.05" y="561.00" font-size="9.6" text-anchor="middle" fill="#231f20" font-weight="normal" textLength="8.5" lengthAdjust="spacingAndGlyphs" stroke="#231f20" stroke-width="0.16">ns</text>
<line x1="360.20" y1="570.30" x2="376.60" y2="570.30" stroke="#231f20" stroke-width="0.9"/>
<text x="368.40" y="568.30" font-size="9.6" text-anchor="middle" fill="#231f20" font-weight="normal" textLength="8.5" lengthAdjust="spacingAndGlyphs" stroke="#231f20" stroke-width="0.16">ns</text>
<line x1="441.90" y1="548.20" x2="441.90" y2="615.20" stroke="#231f20" stroke-width="1.4"/>
<line x1="441.20" y1="614.60" x2="512.10" y2="614.60" stroke="#231f20" stroke-width="1.4"/>
<line x1="438.50" y1="614.40" x2="441.90" y2="614.40" stroke="#231f20" stroke-width="1.1"/>
<text x="436.90" y="617.10" font-size="9.36" text-anchor="end" fill="#231f20" font-weight="normal" textLength="13.200000000000001" lengthAdjust="spacingAndGlyphs" stroke="#231f20" stroke-width="0.16">0.0</text>
<line x1="438.50" y1="595.20" x2="441.90" y2="595.20" stroke="#231f20" stroke-width="1.1"/>
<text x="436.90" y="597.90" font-size="9.36" text-anchor="end" fill="#231f20" font-weight="normal" textLength="13.200000000000001" lengthAdjust="spacingAndGlyphs" stroke="#231f20" stroke-width="0.16">0.5</text>
<line x1="438.50" y1="576.30" x2="441.90" y2="576.30" stroke="#231f20" stroke-width="1.1"/>
<text x="436.90" y="579.00" font-size="9.36" text-anchor="end" fill="#231f20" font-weight="normal" textLength="13.200000000000001" lengthAdjust="spacingAndGlyphs" stroke="#231f20" stroke-width="0.16">1.0</text>
<line x1="438.50" y1="557.20" x2="441.90" y2="557.20" stroke="#231f20" stroke-width="1.1"/>
<text x="436.90" y="559.90" font-size="9.36" text-anchor="end" fill="#231f20" font-weight="normal" textLength="13.200000000000001" lengthAdjust="spacingAndGlyphs" stroke="#231f20" stroke-width="0.16">1.5</text>
<line x1="452.70" y1="614.60" x2="452.70" y2="617.20" stroke="#231f20" stroke-width="1.0"/>
<line x1="469.00" y1="614.60" x2="469.00" y2="617.20" stroke="#231f20" stroke-width="1.0"/>
<line x1="485.30" y1="614.60" x2="485.30" y2="617.20" stroke="#231f20" stroke-width="1.0"/>
<line x1="501.70" y1="614.60" x2="501.70" y2="617.20" stroke="#231f20" stroke-width="1.0"/>
<text x="477.60" y="539.40" font-size="11.52" text-anchor="middle" fill="#231f20" font-weight="normal" textLength="46" lengthAdjust="spacingAndGlyphs" stroke="#231f20" stroke-width="0.16">MFI IFN- γ</text>
<text x="405.30" y="581.60" font-size="10.56" text-anchor="middle" fill="#231f20" font-weight="normal" textLength="68.8" lengthAdjust="spacingAndGlyphs" transform="rotate(-90 405.30 581.60)" stroke="#231f20" stroke-width="0.16">FC ΔMFI IFN-γ+ NK</text>
<text x="417.30" y="580.90" font-size="10.56" text-anchor="middle" fill="#231f20" font-weight="normal" textLength="74.5" lengthAdjust="spacingAndGlyphs" transform="rotate(-90 417.30 580.90)" stroke="#231f20" stroke-width="0.16">(vs healthy + DMSO)</text>
<text x="455.90" y="622.60" font-size="10.56" text-anchor="end" fill="#231f20" font-weight="normal" textLength="23.3" lengthAdjust="spacingAndGlyphs" transform="rotate(-90 455.90 622.60)" stroke="#231f20" stroke-width="0.16">DMSO</text>
<text x="472.20" y="621.60" font-size="10.56" text-anchor="end" fill="#231f20" font-weight="normal" textLength="50.6" lengthAdjust="spacingAndGlyphs" transform="rotate(-90 472.20 621.60)" stroke="#231f20" stroke-width="0.16">Rosiglitazone</text>
<text x="488.50" y="622.60" font-size="10.56" text-anchor="end" fill="#231f20" font-weight="normal" textLength="23.3" lengthAdjust="spacingAndGlyphs" transform="rotate(-90 488.50 622.60)" stroke="#231f20" stroke-width="0.16">DMSO</text>
<text x="504.90" y="621.60" font-size="10.56" text-anchor="end" fill="#231f20" font-weight="normal" textLength="50.6" lengthAdjust="spacingAndGlyphs" transform="rotate(-90 504.90 621.60)" stroke="#231f20" stroke-width="0.16">Rosiglitazone</text>
<polyline points="445.30,675.80 445.30,678.20 472.00,678.20 472.00,675.80" fill="none" stroke="#231f20" stroke-width="0.9" stroke-linejoin="round"/>
<text x="458.65" y="689.20" font-size="10.08" text-anchor="middle" fill="#231f20" font-weight="normal" textLength="28" lengthAdjust="spacingAndGlyphs" stroke="#231f20" stroke-width="0.16">Healthy</text>
<polyline points="483.20,675.80 483.20,678.20 509.20,678.20 509.20,675.80" fill="none" stroke="#231f20" stroke-width="0.9" stroke-linejoin="round"/>
<text x="496.20" y="689.20" font-size="10.08" text-anchor="middle" fill="#231f20" font-weight="normal" textLength="26.5" lengthAdjust="spacingAndGlyphs" stroke="#231f20" stroke-width="0.16">Eμ-myc</text>
<rect x="447.70" y="576.30" width="10.20" height="38.10" fill="#d9968b" stroke="none" stroke-width="1"/>
<rect x="464.10" y="569.10" width="10.10" height="45.30" fill="#a2a7cd" stroke="none" stroke-width="1"/>
<rect x="480.40" y="592.00" width="10.20" height="22.40" fill="#b5333c" stroke="none" stroke-width="1"/>
<rect x="496.80" y="585.40" width="10.10" height="29.00" fill="#3d5a98" stroke="none" stroke-width="1"/>
<circle cx="451.30" cy="565.30" r="1.7" fill="#fff" stroke="#c0163d" stroke-width="0.8"/>
<circle cx="453.80" cy="569.40" r="1.7" fill="#fff" stroke="#c0163d" stroke-width="0.8"/>
<circle cx="453.80" cy="572.70" r="1.7" fill="#fff" stroke="#c0163d" stroke-width="0.8"/>
<circle cx="455.40" cy="575.10" r="1.7" fill="#fff" stroke="#c0163d" stroke-width="0.8"/>
<circle cx="449.40" cy="575.10" r="1.7" fill="#fff" stroke="#c0163d" stroke-width="0.8"/>
<circle cx="451.30" cy="577.60" r="1.7" fill="#fff" stroke="#c0163d" stroke-width="0.8"/>
<circle cx="453.80" cy="581.70" r="1.7" fill="#fff" stroke="#c0163d" stroke-width="0.8"/>
<circle cx="451.30" cy="584.10" r="1.7" fill="#fff" stroke="#c0163d" stroke-width="0.8"/>
<circle cx="453.80" cy="588.20" r="1.7" fill="#fff" stroke="#c0163d" stroke-width="0.8"/>
<line x1="469.10" y1="564.20" x2="469.10" y2="569.10" stroke="#231f20" stroke-width="0.9"/>
<line x1="466.60" y1="564.20" x2="471.60" y2="564.20" stroke="#231f20" stroke-width="0.9"/>
<line x1="465.50" y1="566.30" x2="472.80" y2="566.30" stroke="#231f20" stroke-width="1.0"/>
<polygon points="464.35,561.98 466.85,561.98 465.60,564.23" fill="#fff" stroke="#3d5a98" stroke-width="0.75" stroke-linejoin="round"/>
<polygon points="467.55,561.38 470.05,561.38 468.80,563.62" fill="#fff" stroke="#3d5a98" stroke-width="0.75" stroke-linejoin="round"/>
<polygon points="470.65,561.38 473.15,561.38 471.90,563.62" fill="#fff" stroke="#3d5a98" stroke-width="0.75" stroke-linejoin="round"/>
<polygon points="465.65,564.08 468.15,564.08 466.90,566.33" fill="#fff" stroke="#3d5a98" stroke-width="0.75" stroke-linejoin="round"/>
<polygon points="468.95,564.08 471.45,564.08 470.20,566.33" fill="#fff" stroke="#3d5a98" stroke-width="0.75" stroke-linejoin="round"/>
<polygon points="466.25,566.67 468.75,566.67 467.50,568.92" fill="#fff" stroke="#3d5a98" stroke-width="0.75" stroke-linejoin="round"/>
<polygon points="469.35,566.67 471.85,566.67 470.60,568.92" fill="#fff" stroke="#3d5a98" stroke-width="0.75" stroke-linejoin="round"/>
<polygon points="465.65,569.17 468.15,569.17 466.90,571.42" fill="#a2a7cd" stroke="#3d5a98" stroke-width="0.75" stroke-linejoin="round"/>
<polygon points="468.75,569.67 471.25,569.67 470.00,571.92" fill="#a2a7cd" stroke="#3d5a98" stroke-width="0.75" stroke-linejoin="round"/>
<polygon points="466.85,576.48 469.35,576.48 468.10,578.73" fill="#a2a7cd" stroke="#3d5a98" stroke-width="0.75" stroke-linejoin="round"/>
<line x1="485.50" y1="589.00" x2="485.50" y2="592.00" stroke="#231f20" stroke-width="0.9"/>
<line x1="483.50" y1="589.00" x2="487.50" y2="589.00" stroke="#231f20" stroke-width="0.9"/>
<circle cx="485.00" cy="575.00" r="1.6" fill="#fff" stroke="#c0163d" stroke-width="0.8"/>
<circle cx="484.40" cy="585.00" r="1.6" fill="#fff" stroke="#c0163d" stroke-width="0.8"/>
<circle cx="486.90" cy="588.10" r="1.6" fill="#fff" stroke="#c0163d" stroke-width="0.8"/>
<circle cx="485.20" cy="591.00" r="1.6" fill="#fff" stroke="#c0163d" stroke-width="0.8"/>
<circle cx="482.80" cy="593.80" r="1.45" fill="#fff" stroke="#f3c0c8" stroke-width="0.5"/>
<circle cx="485.30" cy="594.30" r="1.45" fill="#fff" stroke="#f3c0c8" stroke-width="0.5"/>
<circle cx="488.20" cy="593.80" r="1.45" fill="#fff" stroke="#f3c0c8" stroke-width="0.5"/>
<circle cx="484.00" cy="596.90" r="1.45" fill="#fff" stroke="#f3c0c8" stroke-width="0.5"/>
<circle cx="487.60" cy="596.90" r="1.45" fill="#fff" stroke="#f3c0c8" stroke-width="0.5"/>
<polygon points="498.80,574.12 501.20,574.12 500.00,576.28" fill="#fff" stroke="#3d5a98" stroke-width="0.75" stroke-linejoin="round"/>
<polygon points="501.40,574.72 503.80,574.72 502.60,576.88" fill="#fff" stroke="#3d5a98" stroke-width="0.75" stroke-linejoin="round"/>
<polygon points="499.40,577.22 501.80,577.22 500.60,579.38" fill="#fff" stroke="#3d5a98" stroke-width="0.75" stroke-linejoin="round"/>
<polygon points="502.60,577.92 505.00,577.92 503.80,580.08" fill="#fff" stroke="#3d5a98" stroke-width="0.75" stroke-linejoin="round"/>
<polygon points="500.10,579.72 502.50,579.72 501.30,581.88" fill="#fff" stroke="#3d5a98" stroke-width="0.75" stroke-linejoin="round"/>
<polygon points="503.80,582.92 506.20,582.92 505.00,585.08" fill="#fff" stroke="#3d5a98" stroke-width="0.75" stroke-linejoin="round"/>
<polygon points="500.70,582.92 503.10,582.92 501.90,585.08" fill="#fff" stroke="#3d5a98" stroke-width="0.75" stroke-linejoin="round"/>
<polygon points="499.40,585.92 501.80,585.92 500.60,588.08" fill="#3d5a98" stroke="#9fb0d8" stroke-width="0.75" stroke-linejoin="round"/>
<polygon points="501.90,585.92 504.30,585.92 503.10,588.08" fill="#3d5a98" stroke="#9fb0d8" stroke-width="0.75" stroke-linejoin="round"/>
<line x1="502.10" y1="582.80" x2="502.10" y2="585.40" stroke="#231f20" stroke-width="0.9"/>
<line x1="500.00" y1="582.80" x2="504.20" y2="582.80" stroke="#231f20" stroke-width="0.9"/>
<line x1="452.20" y1="558.80" x2="469.00" y2="558.80" stroke="#231f20" stroke-width="0.9"/>
<line x1="460.60" y1="552.80" x2="460.60" y2="555.60" stroke="#231f20" stroke-width="0.9"/>
<line x1="459.39" y1="553.50" x2="461.81" y2="554.90" stroke="#231f20" stroke-width="0.9"/>
<line x1="459.39" y1="554.90" x2="461.81" y2="553.50" stroke="#231f20" stroke-width="0.9"/>
<line x1="485.70" y1="570.20" x2="502.30" y2="570.20" stroke="#231f20" stroke-width="0.9"/>
<line x1="494.00" y1="564.20" x2="494.00" y2="567.00" stroke="#231f20" stroke-width="0.9"/>
<line x1="492.79" y1="564.90" x2="495.21" y2="566.30" stroke="#231f20" stroke-width="0.9"/>
<line x1="492.79" y1="566.30" x2="495.21" y2="564.90" stroke="#231f20" stroke-width="0.9"/></svg>
</body></html>
